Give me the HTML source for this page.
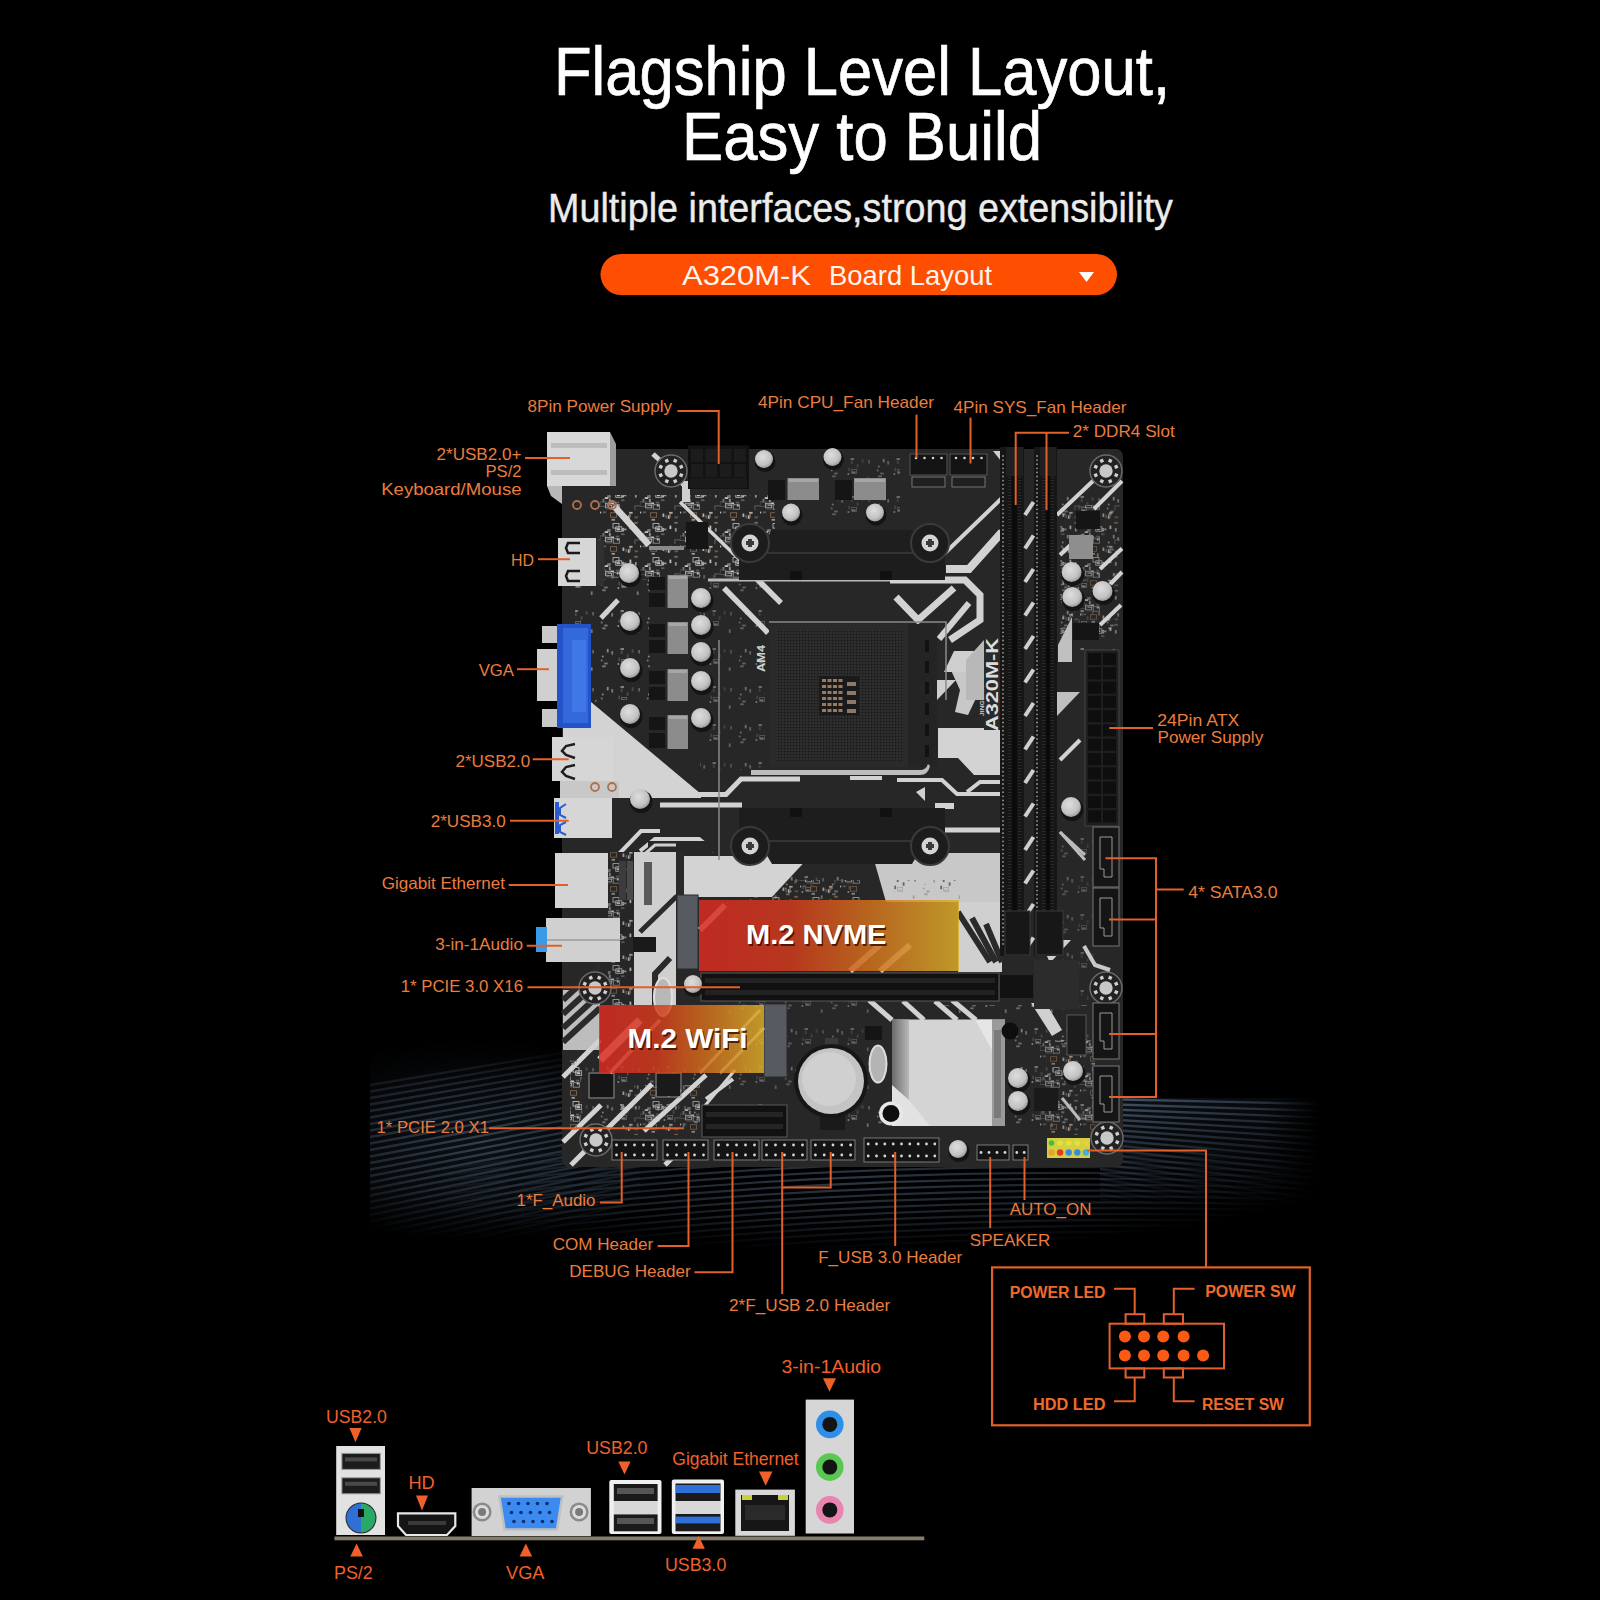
<!DOCTYPE html>
<html><head><meta charset="utf-8"><title>A320M-K Board Layout</title>
<style>
html,body{margin:0;padding:0;background:#000;}
body{width:1600px;height:1600px;overflow:hidden;position:relative;font-family:"Liberation Sans",sans-serif;}
svg{position:absolute;left:0;top:0;display:block;}
svg text{font-family:"Liberation Sans",sans-serif;}
</style></head><body>
<svg width="1600" height="1600" viewBox="0 0 1600 1600">
<defs>
<linearGradient id="m2g" x1="0" y1="0" x2="1" y2="0">
 <stop offset="0" stop-color="#dc2a22"/><stop offset="0.35" stop-color="#d23a1c"/><stop offset="0.65" stop-color="#d2701c"/><stop offset="1" stop-color="#dcae2a"/>
</linearGradient>
<radialGradient id="capg" cx="0.42" cy="0.38" r="0.7">
 <stop offset="0" stop-color="#dedede"/><stop offset="0.65" stop-color="#c2c2c2"/><stop offset="1" stop-color="#8a8a8a"/>
</radialGradient>
<radialGradient id="wave" cx="0.5" cy="0.5" r="0.5">
 <stop offset="0" stop-color="#1c2532" stop-opacity="1"/><stop offset="1" stop-color="#000" stop-opacity="0"/>
</radialGradient>
<linearGradient id="hsg" x1="0" y1="0" x2="1" y2="0">
 <stop offset="0" stop-color="#8a8a8a"/><stop offset="0.12" stop-color="#d8d8d8"/><stop offset="1" stop-color="#e6e6e6"/>
</linearGradient>
</defs>
<rect x="0" y="0" width="1600" height="1600" fill="#000"/>

<defs><radialGradient id="wgL" cx="0.5" cy="0.5" r="0.5"><stop offset="0" stop-color="#fff"/><stop offset="0.6" stop-color="#888"/><stop offset="1" stop-color="#000"/></radialGradient><linearGradient id="wgR" x1="0" y1="0" x2="1" y2="0"><stop offset="0" stop-color="#fff"/><stop offset="0.75" stop-color="#999"/><stop offset="1" stop-color="#000"/></linearGradient><linearGradient id="wgRv" x1="0" y1="0" x2="0" y2="1"><stop offset="0" stop-color="#fff"/><stop offset="1" stop-color="#000"/></linearGradient><mask id="wmL" maskUnits="userSpaceOnUse" x="370" y="1000" width="300" height="320"><ellipse cx="480" cy="1140" rx="230" ry="100" fill="url(#wgL)"/></mask><mask id="wmM" maskUnits="userSpaceOnUse" x="370" y="1100" width="950" height="220"><ellipse cx="845" cy="1180" rx="470" ry="70" fill="url(#wgL)"/></mask><mask id="wmR" maskUnits="userSpaceOnUse" x="1100" y="1090" width="220" height="140"><rect x="1100" y="1098" width="220" height="110" fill="url(#wgR)"/></mask><mask id="wmR2" maskUnits="userSpaceOnUse" x="1100" y="1090" width="220" height="140"><rect x="1100" y="1098" width="220" height="110" fill="url(#wgRv)"/></mask><clipPath id="wclip"><rect x="370" y="1000" width="950" height="320"/></clipPath></defs>
<g clip-path="url(#wclip)">
<g mask="url(#wmL)">
<rect x="370" y="1000" width="300" height="320" fill="#0b0f14"/>
<line x1="370" y1="1085.0" x2="640" y2="1040.0" stroke="#34414f" stroke-width="2.3"/>
<line x1="370" y1="1091.5" x2="640" y2="1046.0" stroke="#34414f" stroke-width="2.3"/>
<line x1="370" y1="1098.0" x2="640" y2="1052.0" stroke="#34414f" stroke-width="2.3"/>
<line x1="370" y1="1104.5" x2="640" y2="1058.0" stroke="#34414f" stroke-width="2.3"/>
<line x1="370" y1="1111.0" x2="640" y2="1064.0" stroke="#34414f" stroke-width="2.3"/>
<line x1="370" y1="1117.5" x2="640" y2="1070.0" stroke="#34414f" stroke-width="2.3"/>
<line x1="370" y1="1124.0" x2="640" y2="1076.0" stroke="#34414f" stroke-width="2.3"/>
<line x1="370" y1="1130.5" x2="640" y2="1082.0" stroke="#34414f" stroke-width="2.3"/>
<line x1="370" y1="1137.0" x2="640" y2="1088.0" stroke="#34414f" stroke-width="2.3"/>
<line x1="370" y1="1143.5" x2="640" y2="1094.0" stroke="#34414f" stroke-width="2.3"/>
<line x1="370" y1="1150.0" x2="640" y2="1100.0" stroke="#34414f" stroke-width="2.3"/>
<line x1="370" y1="1156.5" x2="640" y2="1106.0" stroke="#34414f" stroke-width="2.3"/>
<line x1="370" y1="1163.0" x2="640" y2="1112.0" stroke="#34414f" stroke-width="2.3"/>
<line x1="370" y1="1169.5" x2="640" y2="1118.0" stroke="#34414f" stroke-width="2.3"/>
<line x1="370" y1="1176.0" x2="640" y2="1124.0" stroke="#34414f" stroke-width="2.3"/>
<line x1="370" y1="1182.5" x2="640" y2="1130.0" stroke="#34414f" stroke-width="2.3"/>
<line x1="370" y1="1189.0" x2="640" y2="1136.0" stroke="#34414f" stroke-width="2.3"/>
<line x1="370" y1="1195.5" x2="640" y2="1142.0" stroke="#34414f" stroke-width="2.3"/>
<line x1="370" y1="1202.0" x2="640" y2="1148.0" stroke="#34414f" stroke-width="2.3"/>
<line x1="370" y1="1208.5" x2="640" y2="1154.0" stroke="#34414f" stroke-width="2.3"/>
<line x1="370" y1="1215.0" x2="640" y2="1160.0" stroke="#34414f" stroke-width="2.3"/>
<line x1="370" y1="1221.5" x2="640" y2="1166.0" stroke="#34414f" stroke-width="2.3"/>
<line x1="370" y1="1228.0" x2="640" y2="1172.0" stroke="#34414f" stroke-width="2.3"/>
<line x1="370" y1="1234.5" x2="640" y2="1178.0" stroke="#34414f" stroke-width="2.3"/>
<line x1="370" y1="1241.0" x2="640" y2="1184.0" stroke="#34414f" stroke-width="2.3"/>
<line x1="370" y1="1247.5" x2="640" y2="1190.0" stroke="#34414f" stroke-width="2.3"/>
<line x1="370" y1="1254.0" x2="640" y2="1196.0" stroke="#34414f" stroke-width="2.3"/>
<line x1="370" y1="1260.5" x2="640" y2="1202.0" stroke="#34414f" stroke-width="2.3"/>
<line x1="370" y1="1267.0" x2="640" y2="1208.0" stroke="#34414f" stroke-width="2.3"/>
<line x1="370" y1="1273.5" x2="640" y2="1214.0" stroke="#34414f" stroke-width="2.3"/>
<line x1="370" y1="1280.0" x2="640" y2="1220.0" stroke="#34414f" stroke-width="2.3"/>
<line x1="370" y1="1286.5" x2="640" y2="1226.0" stroke="#34414f" stroke-width="2.3"/>
<line x1="370" y1="1293.0" x2="640" y2="1232.0" stroke="#34414f" stroke-width="2.3"/>
<line x1="370" y1="1299.5" x2="640" y2="1238.0" stroke="#34414f" stroke-width="2.3"/>
</g>
<g mask="url(#wmM)">
<path d="M370,1180.0 Q800,1110.0 1320,1140.0" fill="none" stroke="#2c3846" stroke-width="2.2"/>
<path d="M370,1186.5 Q800,1116.5 1320,1145.5" fill="none" stroke="#2c3846" stroke-width="2.2"/>
<path d="M370,1193.0 Q800,1123.0 1320,1151.0" fill="none" stroke="#2c3846" stroke-width="2.2"/>
<path d="M370,1199.5 Q800,1129.5 1320,1156.5" fill="none" stroke="#2c3846" stroke-width="2.2"/>
<path d="M370,1206.0 Q800,1136.0 1320,1162.0" fill="none" stroke="#2c3846" stroke-width="2.2"/>
<path d="M370,1212.5 Q800,1142.5 1320,1167.5" fill="none" stroke="#2c3846" stroke-width="2.2"/>
<path d="M370,1219.0 Q800,1149.0 1320,1173.0" fill="none" stroke="#2c3846" stroke-width="2.2"/>
<path d="M370,1225.5 Q800,1155.5 1320,1178.5" fill="none" stroke="#2c3846" stroke-width="2.2"/>
<path d="M370,1232.0 Q800,1162.0 1320,1184.0" fill="none" stroke="#2c3846" stroke-width="2.2"/>
<path d="M370,1238.5 Q800,1168.5 1320,1189.5" fill="none" stroke="#2c3846" stroke-width="2.2"/>
<path d="M370,1245.0 Q800,1175.0 1320,1195.0" fill="none" stroke="#2c3846" stroke-width="2.2"/>
<path d="M370,1251.5 Q800,1181.5 1320,1200.5" fill="none" stroke="#2c3846" stroke-width="2.2"/>
<path d="M370,1258.0 Q800,1188.0 1320,1206.0" fill="none" stroke="#2c3846" stroke-width="2.2"/>
<path d="M370,1264.5 Q800,1194.5 1320,1211.5" fill="none" stroke="#2c3846" stroke-width="2.2"/>
<path d="M370,1271.0 Q800,1201.0 1320,1217.0" fill="none" stroke="#2c3846" stroke-width="2.2"/>
<path d="M370,1277.5 Q800,1207.5 1320,1222.5" fill="none" stroke="#2c3846" stroke-width="2.2"/>
<path d="M370,1284.0 Q800,1214.0 1320,1228.0" fill="none" stroke="#2c3846" stroke-width="2.2"/>
<path d="M370,1290.5 Q800,1220.5 1320,1233.5" fill="none" stroke="#2c3846" stroke-width="2.2"/>
<path d="M370,1297.0 Q800,1227.0 1320,1239.0" fill="none" stroke="#2c3846" stroke-width="2.2"/>
<path d="M370,1303.5 Q800,1233.5 1320,1244.5" fill="none" stroke="#2c3846" stroke-width="2.2"/>
<path d="M370,1310.0 Q800,1240.0 1320,1250.0" fill="none" stroke="#2c3846" stroke-width="2.2"/>
<path d="M370,1316.5 Q800,1246.5 1320,1255.5" fill="none" stroke="#2c3846" stroke-width="2.2"/>
<path d="M370,1323.0 Q800,1253.0 1320,1261.0" fill="none" stroke="#2c3846" stroke-width="2.2"/>
<path d="M370,1329.5 Q800,1259.5 1320,1266.5" fill="none" stroke="#2c3846" stroke-width="2.2"/>
</g>
<g mask="url(#wmR)"><g mask="url(#wmR2)">
<rect x="1100" y="1098" width="220" height="110" fill="#0c1016"/>
<line x1="1100" y1="1099.0" x2="1320" y2="1104.0" stroke="#465668" stroke-width="2.3"/>
<line x1="1100" y1="1104.0" x2="1320" y2="1110.8" stroke="#465668" stroke-width="2.3"/>
<line x1="1100" y1="1109.0" x2="1320" y2="1117.6" stroke="#465668" stroke-width="2.3"/>
<line x1="1100" y1="1114.0" x2="1320" y2="1124.4" stroke="#465668" stroke-width="2.3"/>
<line x1="1100" y1="1119.0" x2="1320" y2="1131.2" stroke="#465668" stroke-width="2.3"/>
<line x1="1100" y1="1124.0" x2="1320" y2="1138.0" stroke="#465668" stroke-width="2.3"/>
<line x1="1100" y1="1129.0" x2="1320" y2="1144.8" stroke="#465668" stroke-width="2.3"/>
<line x1="1100" y1="1134.0" x2="1320" y2="1151.6" stroke="#465668" stroke-width="2.3"/>
<line x1="1100" y1="1139.0" x2="1320" y2="1158.4" stroke="#465668" stroke-width="2.3"/>
<line x1="1100" y1="1144.0" x2="1320" y2="1165.2" stroke="#465668" stroke-width="2.3"/>
<line x1="1100" y1="1149.0" x2="1320" y2="1172.0" stroke="#465668" stroke-width="2.3"/>
<line x1="1100" y1="1154.0" x2="1320" y2="1178.8" stroke="#465668" stroke-width="2.3"/>
<line x1="1100" y1="1159.0" x2="1320" y2="1185.6" stroke="#465668" stroke-width="2.3"/>
<line x1="1100" y1="1164.0" x2="1320" y2="1192.4" stroke="#465668" stroke-width="2.3"/>
<line x1="1100" y1="1169.0" x2="1320" y2="1199.2" stroke="#465668" stroke-width="2.3"/>
<line x1="1100" y1="1174.0" x2="1320" y2="1206.0" stroke="#465668" stroke-width="2.3"/>
<line x1="1100" y1="1179.0" x2="1320" y2="1212.8" stroke="#465668" stroke-width="2.3"/>
<line x1="1100" y1="1184.0" x2="1320" y2="1219.6" stroke="#465668" stroke-width="2.3"/>
<line x1="1100" y1="1189.0" x2="1320" y2="1226.4" stroke="#465668" stroke-width="2.3"/>
<line x1="1100" y1="1194.0" x2="1320" y2="1233.2" stroke="#465668" stroke-width="2.3"/>
<line x1="1100" y1="1199.0" x2="1320" y2="1240.0" stroke="#465668" stroke-width="2.3"/>
<line x1="1100" y1="1204.0" x2="1320" y2="1246.8" stroke="#465668" stroke-width="2.3"/>
</g></g>
</g>
<text x="554.0" y="95.0" font-size="68" fill="#ffffff" text-anchor="start" font-weight="normal" textLength="616.0" lengthAdjust="spacingAndGlyphs" stroke="#fff" stroke-width="0.7">Flagship Level Layout,</text>
<text x="682.0" y="160.0" font-size="68" fill="#ffffff" text-anchor="start" font-weight="normal" textLength="360.0" lengthAdjust="spacingAndGlyphs" stroke="#fff" stroke-width="0.7">Easy to Build</text>
<text x="548.0" y="222.0" font-size="41" fill="#ececec" text-anchor="start" font-weight="normal" textLength="625.0" lengthAdjust="spacingAndGlyphs" stroke="#ececec" stroke-width="0.4">Multiple interfaces,strong extensibility</text>
<rect x="600.5" y="254" width="516.5" height="41" rx="20.5" ry="20.5" fill="#fd4e02"/>
<text x="682.0" y="285.0" font-size="28.5" fill="#fff4ee" text-anchor="start" font-weight="normal" textLength="129.0" lengthAdjust="spacingAndGlyphs">A320M-K</text>
<text x="829.0" y="285.0" font-size="28.5" fill="#fff4ee" text-anchor="start" font-weight="normal" textLength="163.0" lengthAdjust="spacingAndGlyphs">Board Layout</text>
<polygon points="1079.0,272.0 1094.0,272.0 1086.5,282.0" fill="#ffffff" />
<defs>
<pattern id="smd" x="0" y="0" width="46" height="38" patternUnits="userSpaceOnUse"><rect x="13.3" y="5.1" width="1.8" height="3.5" fill="#9a9a9a"/><rect x="33.7" y="3.2" width="1.8" height="3.5" fill="#5a5a5a"/><rect x="8.8" y="2.9" width="1.8" height="3.5" fill="#b0b0b0"/><circle cx="3.7" cy="14.4" r="1" fill="#9a9a9a"/><rect x="38.8" y="21.4" width="1.8" height="3.5" fill="#9a9a9a"/><rect x="23.7" y="13.5" width="5" height="4" fill="none" stroke="#9a9a9a" stroke-width="0.7"/><rect x="22.8" y="4.5" width="1.8" height="3.5" fill="#5a5a5a"/><circle cx="4.8" cy="10.5" r="1" fill="#b0b0b0"/><rect x="4.2" y="19.4" width="3.5" height="1.8" fill="#9a9a9a"/><rect x="22.5" y="2.1" width="3.5" height="1.8" fill="#b0b0b0"/><circle cx="20.4" cy="18.1" r="1" fill="#c0c0c0"/><rect x="24.0" y="15.4" width="3.5" height="1.8" fill="#b0b0b0"/><rect x="28.7" y="8.3" width="1.8" height="3.5" fill="#5a5a5a"/><rect x="20.3" y="11.7" width="1.8" height="3.5" fill="#5a5a5a"/><rect x="40.2" y="4.0" width="1.8" height="3.5" fill="#7a7a7a"/><rect x="6.2" y="16.6" width="3.5" height="1.8" fill="#9a9a9a"/></pattern>
<pattern id="smd2" x="0" y="0" width="10" height="9" patternUnits="userSpaceOnUse">
 <rect x="1" y="1" width="3" height="1.5" fill="#4a4a4a"/><rect x="6" y="4" width="1.5" height="3" fill="#555"/>
 <circle cx="2.5" cy="6" r="0.9" fill="#3a3a3a"/>
</pattern>
<pattern id="smd3" x="0" y="0" width="40" height="34" patternUnits="userSpaceOnUse"><rect x="15.8" y="16.8" width="6" height="4.5" fill="none" stroke="#c8c8c8" stroke-width="0.8"/><rect x="15.8" y="25.7" width="3.5" height="1.8" fill="#5e5e5e"/><rect x="16.7" y="18.4" width="3.5" height="1.8" fill="#c8c8c8"/><rect x="10.6" y="2.7" width="6" height="4.5" fill="none" stroke="#8a6a50" stroke-width="0.8"/><rect x="22.2" y="17.9" width="1.8" height="3.5" fill="#c8c8c8"/><rect x="22.9" y="18.5" width="3.5" height="1.8" fill="#9a9a9a"/><rect x="29.1" y="1.9" width="3.5" height="1.8" fill="#b4b4b4"/><rect x="21.0" y="23.3" width="3.5" height="1.8" fill="#5e5e5e"/><rect x="29.5" y="15.6" width="1.8" height="3.5" fill="#c8c8c8"/><circle cx="0.2" cy="2.5" r="1.1" fill="#c8c8c8"/><rect x="34.9" y="29.9" width="6" height="4.5" fill="none" stroke="#8a6a50" stroke-width="0.8"/><rect x="8.9" y="22.7" width="1.8" height="3.5" fill="#9a9a9a"/><rect x="2.5" y="23.0" width="1.8" height="3.5" fill="#7a7a7a"/><rect x="13.5" y="28.7" width="6" height="4.5" fill="none" stroke="#9a9a9a" stroke-width="0.8"/><rect x="7.5" y="27.8" width="3.5" height="1.8" fill="#c8c8c8"/><rect x="34.3" y="11.9" width="3.5" height="1.8" fill="#8a6a50"/><rect x="6.9" y="20.2" width="3.5" height="1.8" fill="#7a7a7a"/><circle cx="11.6" cy="28.9" r="1.1" fill="#9a9a9a"/><rect x="4.7" y="21.2" width="3.5" height="1.8" fill="#c8c8c8"/><rect x="27.9" y="5.3" width="1.8" height="3.5" fill="#c8c8c8"/><circle cx="17.8" cy="29.6" r="1.1" fill="#c8c8c8"/><rect x="22.5" y="3.5" width="1.8" height="3.5" fill="#b4b4b4"/><rect x="0.0" y="25.9" width="6" height="4.5" fill="none" stroke="#5e5e5e" stroke-width="0.8"/><rect x="10.6" y="26.5" width="3.5" height="1.8" fill="#c8c8c8"/><rect x="34.9" y="18.1" width="1.8" height="3.5" fill="#9a9a9a"/><rect x="34.6" y="6.4" width="3.5" height="1.8" fill="#5e5e5e"/><rect x="11.5" y="8.9" width="3.5" height="1.8" fill="#9a9a9a"/><rect x="7.3" y="19.1" width="3.5" height="1.8" fill="#7a7a7a"/><rect x="13.0" y="13.6" width="6" height="4.5" fill="none" stroke="#c8c8c8" stroke-width="0.8"/><rect x="29.1" y="4.1" width="1.8" height="3.5" fill="#8a6a50"/><rect x="5.4" y="27.3" width="6" height="4.5" fill="none" stroke="#b4b4b4" stroke-width="0.8"/><rect x="25.4" y="4.8" width="1.8" height="3.5" fill="#5e5e5e"/><rect x="6.9" y="28.5" width="6" height="4.5" fill="none" stroke="#5e5e5e" stroke-width="0.8"/><rect x="2.7" y="1.4" width="3.5" height="1.8" fill="#5e5e5e"/></pattern>
<linearGradient id="hsg2" x1="0" y1="0" x2="1" y2="0"><stop offset="0" stop-color="#6a6a6a"/><stop offset="1" stop-color="#b8b8b8"/></linearGradient>
<pattern id="sockp" x="0" y="0" width="3" height="3" patternUnits="userSpaceOnUse"><rect width="3" height="3" fill="#2e2e2e"/><rect x="0.8" y="0.8" width="1.5" height="1.5" fill="#151515"/></pattern>
<pattern id="dimp" x="0" y="0" width="4" height="3" patternUnits="userSpaceOnUse"><rect width="4" height="3" fill="#141414"/><rect x="0" y="0" width="4" height="1" fill="#2a2a2a"/></pattern>
</defs>
<g id="board">
<rect x="562" y="449" width="561" height="718" rx="7" fill="#272727"/>
<rect x="575" y="575" width="75" height="125" fill="url(#smd)" opacity="0.7"/>
<rect x="700" y="575" width="65" height="195" fill="url(#smd)" opacity="0.5"/>
<rect x="1057" y="480" width="65" height="170" fill="url(#smd)" opacity="0.6"/>
<rect x="830" y="455" width="70" height="70" fill="url(#smd)" opacity="0.5"/>
<rect x="580" y="1050" width="120" height="85" fill="url(#smd)" opacity="0.6"/>
<rect x="935" y="1005" width="155" height="30" fill="url(#smd)" opacity="0.6"/>
<rect x="1010" y="1035" width="85" height="105" fill="url(#smd)" opacity="0.6"/>
<rect x="845" y="1100" width="55" height="35" fill="url(#smd)" opacity="0.6"/>
<rect x="740" y="845" width="110" height="55" fill="url(#smd)" opacity="0.6"/>
<rect x="930" y="860" width="70" height="40" fill="url(#smd)" opacity="0.5"/>
<rect x="720" y="1000" width="150" height="105" fill="url(#smd)" opacity="0.45"/>
<rect x="1057" y="830" width="37" height="170" fill="url(#smd)" opacity="0.4"/>
<rect x="598" y="495" width="177" height="85" fill="url(#smd3)" opacity="0.95"/>
<rect x="1060" y="505" width="60" height="135" fill="url(#smd3)" opacity="0.7"/>
<rect x="620" y="1085" width="80" height="50" fill="url(#smd3)" opacity="0.8"/>
<rect x="740" y="880" width="120" height="20" fill="url(#smd3)" opacity="0.8"/>
<rect x="1040" y="1040" width="55" height="95" fill="url(#smd3)" opacity="0.7"/>
<rect x="565" y="700" width="35" height="30" fill="url(#smd3)" opacity="0.6"/>
<polygon points="591.0,702.0 701.0,794.0 701.0,798.0 563.0,798.0 563.0,728.0 591.0,728.0" fill="#d3d3d3" />
<polyline points="625.0,794.5 726.0,794.5 741.0,779.0 800.0,779.0" fill="none" stroke="#d2d2d2" stroke-width="5" stroke-linejoin="miter" stroke-linecap="butt"/>
<polyline points="660.0,805.0 742.0,805.0" fill="none" stroke="#d2d2d2" stroke-width="5" stroke-linejoin="miter" stroke-linecap="butt"/>
<polyline points="617.0,856.0 641.0,831.0 660.0,831.0" fill="none" stroke="#d2d2d2" stroke-width="4" stroke-linejoin="miter" stroke-linecap="butt"/>
<polyline points="640.0,851.0 655.0,839.0 699.0,839.0 714.0,851.0" fill="none" stroke="#d2d2d2" stroke-width="4" stroke-linejoin="miter" stroke-linecap="butt"/>
<polygon points="634.0,852.0 676.0,852.0 676.0,1005.0 634.0,1005.0" fill="#cfcfcf" />
<rect x="648.0" y="841.0" width="72.0" height="11.0" fill="#272727" />
<rect x="676.0" y="852.0" width="8.0" height="45.0" fill="#2a2a2a" />
<polyline points="677.0,896.0 640.0,932.0" fill="none" stroke="#2a2a2a" stroke-width="5" stroke-linejoin="miter" stroke-linecap="butt"/>
<polyline points="670.0,958.0 655.0,974.0 655.0,1005.0" fill="none" stroke="#2a2a2a" stroke-width="6" stroke-linejoin="miter" stroke-linecap="butt"/>
<rect x="608.0" y="852.0" width="26.0" height="153.0" fill="#262626" />
<rect x="608" y="852" width="26" height="153" fill="url(#smd3)" opacity="0.8"/>
<rect x="619.0" y="861.0" width="7.0" height="39.0" fill="#3c3c3c" />
<rect x="627.0" y="861.0" width="6.0" height="39.0" fill="#4a4a4a" />
<rect x="644.0" y="862.0" width="8.0" height="43.0" fill="#5a5a5a" />
<rect x="633.0" y="937.0" width="23.0" height="15.0" fill="#1a1a1a" />
<polyline points="640.0,858.0 655.0,845.0 676.0,845.0" fill="none" stroke="#cfcfcf" stroke-width="3" stroke-linejoin="miter" stroke-linecap="butt"/>
<polygon points="684.0,856.0 810.0,856.0 772.0,897.0 684.0,897.0" fill="#d3d3d3" />
<polygon points="872.0,853.0 1001.0,853.0 1001.0,902.0 886.0,902.0" fill="#c8c8c8" />
<rect x="890" y="880" width="70" height="20" fill="url(#smd)" opacity="0.9"/>
<polygon points="958.0,902.0 1002.0,902.0 1002.0,972.0 958.0,972.0" fill="#d0d0d0" />
<polyline points="958.0,912.0 990.0,962.0" fill="none" stroke="#2a2a2a" stroke-width="6" stroke-linejoin="miter" stroke-linecap="butt"/>
<polyline points="972.0,918.0 996.0,962.0" fill="none" stroke="#2a2a2a" stroke-width="6" stroke-linejoin="miter" stroke-linecap="butt"/>
<polyline points="986.0,924.0 1002.0,962.0" fill="none" stroke="#2a2a2a" stroke-width="6" stroke-linejoin="miter" stroke-linecap="butt"/>
<polygon points="938.0,728.0 1001.0,728.0 1001.0,775.0 974.0,775.0 958.0,758.0 938.0,758.0" fill="#d3d3d3" />
<rect x="984.0" y="640.0" width="17.0" height="90.0" fill="#2a2a2a" />
<text x="0" y="0" transform="translate(998,731) rotate(-90)" font-size="16" font-weight="bold" fill="#dcdcdc" textLength="93" lengthAdjust="spacingAndGlyphs">A320M-K</text>
<text x="0" y="0" transform="translate(984,716) rotate(-90)" font-size="6" font-weight="bold" fill="#cfcfcf" textLength="30" lengthAdjust="spacingAndGlyphs">JINGSHA</text>
<polygon points="950.0,668.0 972.0,668.0 980.0,690.0 968.0,715.0 955.0,712.0 960.0,690.0" fill="#c8c8c8" />
<polygon points="954.0,651.0 978.0,651.0 968.0,672.0 944.0,672.0" fill="#cfcfcf" />
<polygon points="937.0,680.0 956.0,680.0 937.0,700.0" fill="#cfcfcf" />
<polygon points="966.0,660.0 984.0,640.0 984.0,700.0 966.0,700.0" fill="#b8b8b8" />
<polyline points="653.0,454.0 665.0,465.0" fill="none" stroke="#d2d2d2" stroke-width="5" stroke-linejoin="miter" stroke-linecap="butt"/>
<polyline points="676.0,477.0 686.0,487.0" fill="none" stroke="#d2d2d2" stroke-width="5" stroke-linejoin="miter" stroke-linecap="butt"/>
<rect x="682.0" y="481.0" width="8.0" height="21.0" fill="#cfcfcf" />
<polyline points="614.0,506.0 649.0,545.0" fill="none" stroke="#d2d2d2" stroke-width="6.5" stroke-linejoin="miter" stroke-linecap="butt"/>
<polyline points="649.0,548.0 684.0,548.0" fill="none" stroke="#8a8a8a" stroke-width="4" stroke-linejoin="miter" stroke-linecap="butt"/>
<polyline points="680.0,502.0 740.0,560.0" fill="none" stroke="#d2d2d2" stroke-width="3.5" stroke-linejoin="miter" stroke-linecap="butt"/>
<polyline points="724.0,588.0 768.0,633.0" fill="none" stroke="#d2d2d2" stroke-width="5.5" stroke-linejoin="miter" stroke-linecap="butt"/>
<polyline points="753.0,575.0 781.0,603.0" fill="none" stroke="#d2d2d2" stroke-width="5.5" stroke-linejoin="miter" stroke-linecap="butt"/>
<polyline points="708.0,580.0 965.0,580.0" fill="none" stroke="#b8b8b8" stroke-width="3" stroke-linejoin="miter" stroke-linecap="butt"/>
<polyline points="601.0,618.0 618.0,600.0" fill="none" stroke="#d2d2d2" stroke-width="5" stroke-linejoin="miter" stroke-linecap="butt"/>
<polyline points="1002.0,498.0 944.0,554.0" fill="none" stroke="#d2d2d2" stroke-width="4" stroke-linejoin="miter" stroke-linecap="butt"/>
<polyline points="1002.0,532.0 969.0,569.0 946.0,569.0" fill="none" stroke="#d2d2d2" stroke-width="8" stroke-linejoin="miter" stroke-linecap="butt"/>
<polyline points="890.0,580.0 965.0,580.0 980.0,595.0 980.0,620.0 950.0,640.0" fill="none" stroke="#d2d2d2" stroke-width="7" stroke-linejoin="miter" stroke-linecap="butt"/>
<polyline points="896.0,597.0 918.0,620.0 954.0,588.0" fill="none" stroke="#d2d2d2" stroke-width="7" stroke-linejoin="miter" stroke-linecap="butt"/>
<polyline points="969.0,603.0 939.0,639.0" fill="none" stroke="#d2d2d2" stroke-width="6" stroke-linejoin="miter" stroke-linecap="butt"/>
<polygon points="993.0,451.0 1008.0,451.0 1001.0,461.0" fill="#cfcfcf" />
<polyline points="1057.0,515.0 1094.0,480.0" fill="none" stroke="#d2d2d2" stroke-width="4" stroke-linejoin="miter" stroke-linecap="butt"/>
<polyline points="1094.0,509.0 1122.0,481.0" fill="none" stroke="#d2d2d2" stroke-width="4" stroke-linejoin="miter" stroke-linecap="butt"/>
<polyline points="1060.0,555.0 1080.0,536.0" fill="none" stroke="#d2d2d2" stroke-width="4" stroke-linejoin="miter" stroke-linecap="butt"/>
<polyline points="1100.0,569.0 1122.0,548.5" fill="none" stroke="#d2d2d2" stroke-width="4" stroke-linejoin="miter" stroke-linecap="butt"/>
<polyline points="1104.6,590.0 1122.0,572.0" fill="none" stroke="#d2d2d2" stroke-width="4" stroke-linejoin="miter" stroke-linecap="butt"/>
<polyline points="1100.0,625.0 1121.0,605.0" fill="none" stroke="#d2d2d2" stroke-width="4" stroke-linejoin="miter" stroke-linecap="butt"/>
<polygon points="1058.0,645.0 1072.0,617.0 1072.0,662.0 1058.0,662.0" fill="#c0c0c0" />
<polygon points="1057.0,692.0 1080.0,692.0 1057.0,716.0" fill="#c0c0c0" />
<polyline points="1060.0,760.0 1080.0,740.0" fill="none" stroke="#d2d2d2" stroke-width="4" stroke-linejoin="miter" stroke-linecap="butt"/>
<polyline points="1060.0,832.0 1085.0,855.0" fill="none" stroke="#bbbbbb" stroke-width="3" stroke-linejoin="miter" stroke-linecap="butt"/>
<polyline points="850.0,778.0 882.0,778.0" fill="none" stroke="#d2d2d2" stroke-width="4" stroke-linejoin="miter" stroke-linecap="butt"/>
<polyline points="897.0,780.0 942.0,780.0 957.0,794.0 1000.0,794.0" fill="none" stroke="#d2d2d2" stroke-width="4" stroke-linejoin="miter" stroke-linecap="butt"/>
<polyline points="967.0,792.0 980.0,782.0 1000.0,782.0" fill="none" stroke="#d2d2d2" stroke-width="4" stroke-linejoin="miter" stroke-linecap="butt"/>
<polygon points="916.0,792.0 925.0,787.0 925.0,801.0" fill="#d0d0d0" />
<polyline points="935.0,806.0 954.0,806.0" fill="none" stroke="#d2d2d2" stroke-width="6" stroke-linejoin="miter" stroke-linecap="butt"/>
<polyline points="942.0,830.0 1000.0,830.0" fill="none" stroke="#d2d2d2" stroke-width="5" stroke-linejoin="miter" stroke-linecap="butt"/>
<polyline points="719.0,640.0 719.0,860.0" fill="none" stroke="#8a8a8a" stroke-width="1.5" stroke-linejoin="miter" stroke-linecap="butt"/>
<polyline points="869.0,1000.0 892.0,1020.0" fill="none" stroke="#d2d2d2" stroke-width="5" stroke-linejoin="miter" stroke-linecap="butt"/>
<polyline points="903.0,1001.0 924.0,1020.0" fill="none" stroke="#d2d2d2" stroke-width="5" stroke-linejoin="miter" stroke-linecap="butt"/>
<polyline points="935.0,1001.0 957.0,1020.0" fill="none" stroke="#d2d2d2" stroke-width="5" stroke-linejoin="miter" stroke-linecap="butt"/>
<polyline points="952.0,1000.0 976.0,1020.0" fill="none" stroke="#d2d2d2" stroke-width="5" stroke-linejoin="miter" stroke-linecap="butt"/>
<polygon points="1031.0,1003.0 1046.0,1003.0 1062.0,1030.0 1052.0,1036.0" fill="#d0d0d0" />
<polygon points="1040.0,940.0 1071.0,940.0 1050.0,963.0" fill="#d0d0d0" />
<polygon points="563.0,990.0 600.0,990.0 600.0,1050.0 563.0,1050.0" fill="#bdbdbd" />
<polyline points="563.0,1000.0 600.0,966.0" fill="none" stroke="#2a2a2a" stroke-width="6" stroke-linejoin="miter" stroke-linecap="butt"/>
<polyline points="563.0,1014.0 600.0,980.0" fill="none" stroke="#2a2a2a" stroke-width="6" stroke-linejoin="miter" stroke-linecap="butt"/>
<polyline points="563.0,1028.0 600.0,994.0" fill="none" stroke="#2a2a2a" stroke-width="6" stroke-linejoin="miter" stroke-linecap="butt"/>
<polyline points="563.0,1042.0 600.0,1008.0" fill="none" stroke="#2a2a2a" stroke-width="6" stroke-linejoin="miter" stroke-linecap="butt"/>
<polyline points="563.0,1077.0 600.0,1040.0" fill="none" stroke="#d2d2d2" stroke-width="5" stroke-linejoin="miter" stroke-linecap="butt"/>
<polyline points="563.0,1142.0 601.0,1105.0" fill="none" stroke="#d2d2d2" stroke-width="5" stroke-linejoin="miter" stroke-linecap="butt"/>
<polyline points="571.0,1165.0 652.0,1084.0" fill="none" stroke="#d2d2d2" stroke-width="5" stroke-linejoin="miter" stroke-linecap="butt"/>
<polyline points="644.0,1131.0 706.0,1075.0" fill="none" stroke="#d2d2d2" stroke-width="5" stroke-linejoin="miter" stroke-linecap="butt"/>
<polyline points="706.0,1099.0 733.0,1079.0" fill="none" stroke="#d2d2d2" stroke-width="4" stroke-linejoin="miter" stroke-linecap="butt"/>
<polyline points="665.0,1165.0 680.0,1150.0" fill="none" stroke="#d2d2d2" stroke-width="5" stroke-linejoin="miter" stroke-linecap="butt"/>
<polyline points="703.0,1108.0 735.0,1070.0" fill="none" stroke="#d2d2d2" stroke-width="3" stroke-linejoin="miter" stroke-linecap="butt"/>
<rect x="590.0" y="1074.0" width="23.0" height="23.0" fill="#151515" />
<rect x="589.0" y="1073.0" width="25.0" height="25.0" fill="none" stroke="#8a8a8a" stroke-width="1"/>
<rect x="657.0" y="1074.0" width="23.0" height="22.0" fill="#1a1a1a" />
<rect x="656.0" y="1073.0" width="25.0" height="24.0" fill="none" stroke="#8a8a8a" stroke-width="1"/>
<rect x="570.0" y="1060.0" width="12.0" height="70.0" fill="url(#smd3)" />
<circle cx="671" cy="471" r="16" fill="#222" stroke="#6a6a6a" stroke-width="1.5"/>
<rect x="679.5" y="473.5" width="3.4" height="3.4" fill="#d0d0d0" transform="rotate(22.5 681.2 475.2)"/>
<rect x="673.5" y="479.5" width="3.4" height="3.4" fill="#d0d0d0" transform="rotate(67.5 675.2 481.2)"/>
<rect x="665.1" y="479.5" width="3.4" height="3.4" fill="#d0d0d0" transform="rotate(112.5 666.8 481.2)"/>
<rect x="659.1" y="473.5" width="3.4" height="3.4" fill="#d0d0d0" transform="rotate(157.5 660.8 475.2)"/>
<rect x="659.1" y="465.1" width="3.4" height="3.4" fill="#d0d0d0" transform="rotate(202.5 660.8 466.8)"/>
<rect x="665.1" y="459.1" width="3.4" height="3.4" fill="#d0d0d0" transform="rotate(247.5 666.8 460.8)"/>
<rect x="673.5" y="459.1" width="3.4" height="3.4" fill="#d0d0d0" transform="rotate(292.5 675.2 460.8)"/>
<rect x="679.5" y="465.1" width="3.4" height="3.4" fill="#d0d0d0" transform="rotate(337.5 681.2 466.8)"/>
<circle cx="671" cy="471" r="6.7" fill="#c8c8c8"/>
<circle cx="1106" cy="471" r="16" fill="#222" stroke="#6a6a6a" stroke-width="1.5"/>
<rect x="1114.5" y="473.5" width="3.4" height="3.4" fill="#d0d0d0" transform="rotate(22.5 1116.2 475.2)"/>
<rect x="1108.5" y="479.5" width="3.4" height="3.4" fill="#d0d0d0" transform="rotate(67.5 1110.2 481.2)"/>
<rect x="1100.1" y="479.5" width="3.4" height="3.4" fill="#d0d0d0" transform="rotate(112.5 1101.8 481.2)"/>
<rect x="1094.1" y="473.5" width="3.4" height="3.4" fill="#d0d0d0" transform="rotate(157.5 1095.8 475.2)"/>
<rect x="1094.1" y="465.1" width="3.4" height="3.4" fill="#d0d0d0" transform="rotate(202.5 1095.8 466.8)"/>
<rect x="1100.1" y="459.1" width="3.4" height="3.4" fill="#d0d0d0" transform="rotate(247.5 1101.8 460.8)"/>
<rect x="1108.5" y="459.1" width="3.4" height="3.4" fill="#d0d0d0" transform="rotate(292.5 1110.2 460.8)"/>
<rect x="1114.5" y="465.1" width="3.4" height="3.4" fill="#d0d0d0" transform="rotate(337.5 1116.2 466.8)"/>
<circle cx="1106" cy="471" r="6.7" fill="#c8c8c8"/>
<circle cx="595" cy="988" r="16" fill="#222" stroke="#6a6a6a" stroke-width="1.5"/>
<rect x="603.5" y="990.5" width="3.4" height="3.4" fill="#d0d0d0" transform="rotate(22.5 605.2 992.2)"/>
<rect x="597.5" y="996.5" width="3.4" height="3.4" fill="#d0d0d0" transform="rotate(67.5 599.2 998.2)"/>
<rect x="589.1" y="996.5" width="3.4" height="3.4" fill="#d0d0d0" transform="rotate(112.5 590.8 998.2)"/>
<rect x="583.1" y="990.5" width="3.4" height="3.4" fill="#d0d0d0" transform="rotate(157.5 584.8 992.2)"/>
<rect x="583.1" y="982.1" width="3.4" height="3.4" fill="#d0d0d0" transform="rotate(202.5 584.8 983.8)"/>
<rect x="589.1" y="976.1" width="3.4" height="3.4" fill="#d0d0d0" transform="rotate(247.5 590.8 977.8)"/>
<rect x="597.5" y="976.1" width="3.4" height="3.4" fill="#d0d0d0" transform="rotate(292.5 599.2 977.8)"/>
<rect x="603.5" y="982.1" width="3.4" height="3.4" fill="#d0d0d0" transform="rotate(337.5 605.2 983.8)"/>
<circle cx="595" cy="988" r="6.7" fill="#c8c8c8"/>
<circle cx="1106" cy="988" r="16" fill="#222" stroke="#6a6a6a" stroke-width="1.5"/>
<rect x="1114.5" y="990.5" width="3.4" height="3.4" fill="#d0d0d0" transform="rotate(22.5 1116.2 992.2)"/>
<rect x="1108.5" y="996.5" width="3.4" height="3.4" fill="#d0d0d0" transform="rotate(67.5 1110.2 998.2)"/>
<rect x="1100.1" y="996.5" width="3.4" height="3.4" fill="#d0d0d0" transform="rotate(112.5 1101.8 998.2)"/>
<rect x="1094.1" y="990.5" width="3.4" height="3.4" fill="#d0d0d0" transform="rotate(157.5 1095.8 992.2)"/>
<rect x="1094.1" y="982.1" width="3.4" height="3.4" fill="#d0d0d0" transform="rotate(202.5 1095.8 983.8)"/>
<rect x="1100.1" y="976.1" width="3.4" height="3.4" fill="#d0d0d0" transform="rotate(247.5 1101.8 977.8)"/>
<rect x="1108.5" y="976.1" width="3.4" height="3.4" fill="#d0d0d0" transform="rotate(292.5 1110.2 977.8)"/>
<rect x="1114.5" y="982.1" width="3.4" height="3.4" fill="#d0d0d0" transform="rotate(337.5 1116.2 983.8)"/>
<circle cx="1106" cy="988" r="6.7" fill="#c8c8c8"/>
<circle cx="596" cy="1140" r="16" fill="#222" stroke="#6a6a6a" stroke-width="1.5"/>
<rect x="604.5" y="1142.5" width="3.4" height="3.4" fill="#d0d0d0" transform="rotate(22.5 606.2 1144.2)"/>
<rect x="598.5" y="1148.5" width="3.4" height="3.4" fill="#d0d0d0" transform="rotate(67.5 600.2 1150.2)"/>
<rect x="590.1" y="1148.5" width="3.4" height="3.4" fill="#d0d0d0" transform="rotate(112.5 591.8 1150.2)"/>
<rect x="584.1" y="1142.5" width="3.4" height="3.4" fill="#d0d0d0" transform="rotate(157.5 585.8 1144.2)"/>
<rect x="584.1" y="1134.1" width="3.4" height="3.4" fill="#d0d0d0" transform="rotate(202.5 585.8 1135.8)"/>
<rect x="590.1" y="1128.1" width="3.4" height="3.4" fill="#d0d0d0" transform="rotate(247.5 591.8 1129.8)"/>
<rect x="598.5" y="1128.1" width="3.4" height="3.4" fill="#d0d0d0" transform="rotate(292.5 600.2 1129.8)"/>
<rect x="604.5" y="1134.1" width="3.4" height="3.4" fill="#d0d0d0" transform="rotate(337.5 606.2 1135.8)"/>
<circle cx="596" cy="1140" r="6.7" fill="#c8c8c8"/>
<circle cx="1107" cy="1138" r="16" fill="#222" stroke="#6a6a6a" stroke-width="1.5"/>
<rect x="1115.5" y="1140.5" width="3.4" height="3.4" fill="#d0d0d0" transform="rotate(22.5 1117.2 1142.2)"/>
<rect x="1109.5" y="1146.5" width="3.4" height="3.4" fill="#d0d0d0" transform="rotate(67.5 1111.2 1148.2)"/>
<rect x="1101.1" y="1146.5" width="3.4" height="3.4" fill="#d0d0d0" transform="rotate(112.5 1102.8 1148.2)"/>
<rect x="1095.1" y="1140.5" width="3.4" height="3.4" fill="#d0d0d0" transform="rotate(157.5 1096.8 1142.2)"/>
<rect x="1095.1" y="1132.1" width="3.4" height="3.4" fill="#d0d0d0" transform="rotate(202.5 1096.8 1133.8)"/>
<rect x="1101.1" y="1126.1" width="3.4" height="3.4" fill="#d0d0d0" transform="rotate(247.5 1102.8 1127.8)"/>
<rect x="1109.5" y="1126.1" width="3.4" height="3.4" fill="#d0d0d0" transform="rotate(292.5 1111.2 1127.8)"/>
<rect x="1115.5" y="1132.1" width="3.4" height="3.4" fill="#d0d0d0" transform="rotate(337.5 1117.2 1133.8)"/>
<circle cx="1107" cy="1138" r="6.7" fill="#c8c8c8"/>
<circle cx="577.0" cy="505.0" r="4.0" fill="none" stroke="#b07050" stroke-width="1.8"/>
<circle cx="595.0" cy="505.0" r="4.0" fill="none" stroke="#b07050" stroke-width="1.8"/>
<circle cx="612.0" cy="505.0" r="4.0" fill="none" stroke="#b07050" stroke-width="1.8"/>
<rect x="688.0" y="445.5" width="61.0" height="43.5" fill="#121212" />
<rect x="691.0" y="449.0" width="12.0" height="13.0" fill="#1c1c1c" />
<rect x="691.0" y="464.0" width="12.0" height="13.0" fill="#1c1c1c" />
<rect x="705.3" y="449.0" width="12.0" height="13.0" fill="#1c1c1c" />
<rect x="705.3" y="464.0" width="12.0" height="13.0" fill="#1c1c1c" />
<rect x="719.6" y="449.0" width="12.0" height="13.0" fill="#1c1c1c" />
<rect x="719.6" y="464.0" width="12.0" height="13.0" fill="#1c1c1c" />
<rect x="733.9" y="449.0" width="12.0" height="13.0" fill="#1c1c1c" />
<rect x="733.9" y="464.0" width="12.0" height="13.0" fill="#1c1c1c" />
<rect x="690.0" y="478.0" width="57.0" height="10.0" fill="#1a1a1a" />
<rect x="686.0" y="522.0" width="22.0" height="27.0" fill="#151515" />
<rect x="910.0" y="454.0" width="37.0" height="21.0" fill="#141414" stroke="#555" stroke-width="1"/>
<circle cx="916.0" cy="458.0" r="1.3" fill="#d0d0d0" />
<circle cx="924.5" cy="458.0" r="1.3" fill="#d0d0d0" />
<circle cx="933.0" cy="458.0" r="1.3" fill="#d0d0d0" />
<circle cx="941.5" cy="458.0" r="1.3" fill="#d0d0d0" />
<rect x="912.0" y="477.0" width="33.0" height="10.0" fill="#202020" stroke="#888" stroke-width="0.8"/>
<rect x="950.0" y="454.0" width="37.0" height="21.0" fill="#141414" stroke="#555" stroke-width="1"/>
<circle cx="956.0" cy="458.0" r="1.3" fill="#d0d0d0" />
<circle cx="964.5" cy="458.0" r="1.3" fill="#d0d0d0" />
<circle cx="973.0" cy="458.0" r="1.3" fill="#d0d0d0" />
<circle cx="981.5" cy="458.0" r="1.3" fill="#d0d0d0" />
<rect x="952.0" y="477.0" width="33.0" height="10.0" fill="#202020" stroke="#888" stroke-width="0.8"/>
<rect x="787.5" y="478.0" width="31.5" height="22.0" fill="#8c8c8c" />
<rect x="788.5" y="479.0" width="29.5" height="3.0" fill="#a6a6a6" />
<rect x="854.0" y="478.0" width="32.0" height="22.0" fill="#8c8c8c" />
<rect x="855.0" y="479.0" width="30.0" height="3.0" fill="#a6a6a6" />
<rect x="768.0" y="480.0" width="17.0" height="20.0" fill="#151515" />
<rect x="835.0" y="480.0" width="17.0" height="20.0" fill="#151515" />
<circle cx="765.0" cy="461.5" r="10.5" fill="#141414"/>
<circle cx="764.0" cy="459.0" r="9.0" fill="url(#capg)"/>
<circle cx="833.5" cy="459.5" r="10.5" fill="#141414"/>
<circle cx="832.5" cy="457.0" r="9.0" fill="url(#capg)"/>
<circle cx="792.0" cy="515.0" r="10.5" fill="#141414"/>
<circle cx="791.0" cy="512.5" r="9.0" fill="url(#capg)"/>
<circle cx="876.0" cy="515.0" r="10.5" fill="#141414"/>
<circle cx="875.0" cy="512.5" r="9.0" fill="url(#capg)"/>
<rect x="667.5" y="575.0" width="20.5" height="33.0" fill="#8c8c8c" />
<rect x="668.5" y="576.0" width="18.5" height="3.0" fill="#a6a6a6" />
<rect x="649.0" y="577.0" width="16.0" height="13.0" fill="#151515" />
<rect x="649.0" y="593.0" width="16.0" height="14.0" fill="#151515" />
<rect x="667.5" y="622.0" width="20.5" height="32.0" fill="#8c8c8c" />
<rect x="668.5" y="623.0" width="18.5" height="3.0" fill="#a6a6a6" />
<rect x="649.0" y="624.0" width="16.0" height="13.0" fill="#151515" />
<rect x="649.0" y="640.0" width="16.0" height="13.0" fill="#151515" />
<rect x="667.5" y="669.0" width="20.5" height="32.0" fill="#8c8c8c" />
<rect x="668.5" y="670.0" width="18.5" height="3.0" fill="#a6a6a6" />
<rect x="649.0" y="671.0" width="16.0" height="13.0" fill="#151515" />
<rect x="649.0" y="687.0" width="16.0" height="13.0" fill="#151515" />
<rect x="667.5" y="715.0" width="20.5" height="34.0" fill="#8c8c8c" />
<rect x="668.5" y="716.0" width="18.5" height="3.0" fill="#a6a6a6" />
<rect x="649.0" y="717.0" width="16.0" height="13.0" fill="#151515" />
<rect x="649.0" y="733.0" width="16.0" height="15.0" fill="#151515" />
<circle cx="630.0" cy="575.5" r="11.5" fill="#141414"/>
<circle cx="629.0" cy="573.0" r="10.0" fill="url(#capg)"/>
<circle cx="631.0" cy="623.5" r="11.5" fill="#141414"/>
<circle cx="630.0" cy="621.0" r="10.0" fill="url(#capg)"/>
<circle cx="631.0" cy="670.5" r="11.5" fill="#141414"/>
<circle cx="630.0" cy="668.0" r="10.0" fill="url(#capg)"/>
<circle cx="631.0" cy="716.5" r="11.5" fill="#141414"/>
<circle cx="630.0" cy="714.0" r="10.0" fill="url(#capg)"/>
<circle cx="702.0" cy="600.5" r="11.5" fill="#141414"/>
<circle cx="701.0" cy="598.0" r="10.0" fill="url(#capg)"/>
<circle cx="702.0" cy="627.5" r="11.5" fill="#141414"/>
<circle cx="701.0" cy="625.0" r="10.0" fill="url(#capg)"/>
<circle cx="702.0" cy="654.5" r="11.5" fill="#141414"/>
<circle cx="701.0" cy="652.0" r="10.0" fill="url(#capg)"/>
<circle cx="702.0" cy="683.5" r="11.5" fill="#141414"/>
<circle cx="701.0" cy="681.0" r="10.0" fill="url(#capg)"/>
<circle cx="702.0" cy="720.5" r="11.5" fill="#141414"/>
<circle cx="701.0" cy="718.0" r="10.0" fill="url(#capg)"/>
<circle cx="641.0" cy="801.5" r="11.5" fill="#141414"/>
<circle cx="640.0" cy="799.0" r="10.0" fill="url(#capg)"/>
<polygon points="772.0,530.0 912.0,530.0 925.0,552.0 759.0,552.0" fill="#1e1e1e" />
<rect x="739.0" y="552.0" width="206.0" height="28.0" fill="#1d1d1d" />
<rect x="739.0" y="552.0" width="206.0" height="2.0" fill="#343434" />
<rect x="790.0" y="571.0" width="12.0" height="9.0" fill="#111" />
<rect x="880.0" y="571.0" width="12.0" height="9.0" fill="#111" />
<circle cx="750.0" cy="543.0" r="19.0" fill="#1c1c1c" stroke="#3a3a3a" stroke-width="2"/>
<circle cx="750.0" cy="543.0" r="8.5" fill="#d4d4d4" />
<path d="M746,541 h8 v4 h-8 z M748,539 h4 v8 h-4 z" fill="#3a3a3a"/>
<circle cx="930.0" cy="543.0" r="19.0" fill="#1c1c1c" stroke="#3a3a3a" stroke-width="2"/>
<circle cx="930.0" cy="543.0" r="8.5" fill="#d4d4d4" />
<path d="M926,541 h8 v4 h-8 z M928,539 h4 v8 h-4 z" fill="#3a3a3a"/>
<rect x="739.0" y="808.0" width="206.0" height="34.0" fill="#1d1d1d" />
<polygon points="759.0,842.0 925.0,842.0 912.0,864.0 772.0,864.0" fill="#1e1e1e" />
<rect x="739.0" y="840.0" width="206.0" height="2.0" fill="#343434" />
<rect x="790.0" y="808.0" width="12.0" height="9.0" fill="#111" />
<rect x="880.0" y="808.0" width="12.0" height="9.0" fill="#111" />
<circle cx="750.0" cy="846.0" r="19.0" fill="#1c1c1c" stroke="#3a3a3a" stroke-width="2"/>
<circle cx="750.0" cy="846.0" r="8.5" fill="#d4d4d4" />
<path d="M746,844 h8 v4 h-8 z M748,842 h4 v8 h-4 z" fill="#3a3a3a"/>
<circle cx="930.0" cy="846.0" r="19.0" fill="#1c1c1c" stroke="#3a3a3a" stroke-width="2"/>
<circle cx="930.0" cy="846.0" r="8.5" fill="#d4d4d4" />
<path d="M926,844 h8 v4 h-8 z M928,842 h4 v8 h-4 z" fill="#3a3a3a"/>
<polyline points="769.0,622.0 946.0,622.0 946.0,700.0" fill="none" stroke="#8a8a8a" stroke-width="1.5" stroke-linejoin="miter" stroke-linecap="butt"/>
<rect x="769.0" y="623.5" width="139.0" height="143.5" fill="#2a2a2a" />
<rect x="776.0" y="630.0" width="126.0" height="131.0" fill="url(#sockp)" />
<rect x="819.0" y="676.0" width="40.0" height="39.0" fill="#1a1a1a" />
<rect x="822.0" y="679.0" width="4.0" height="3.0" fill="#9a7a5a" />
<rect x="822.0" y="685.0" width="4.0" height="3.0" fill="#9a7a5a" />
<rect x="822.0" y="691.0" width="4.0" height="3.0" fill="#9a7a5a" />
<rect x="822.0" y="697.0" width="4.0" height="3.0" fill="#9a7a5a" />
<rect x="822.0" y="703.0" width="4.0" height="3.0" fill="#9a7a5a" />
<rect x="822.0" y="709.0" width="4.0" height="3.0" fill="#9a7a5a" />
<rect x="827.5" y="679.0" width="4.0" height="3.0" fill="#9a7a5a" />
<rect x="827.5" y="685.0" width="4.0" height="3.0" fill="#9a7a5a" />
<rect x="827.5" y="691.0" width="4.0" height="3.0" fill="#9a7a5a" />
<rect x="827.5" y="697.0" width="4.0" height="3.0" fill="#9a7a5a" />
<rect x="827.5" y="703.0" width="4.0" height="3.0" fill="#9a7a5a" />
<rect x="827.5" y="709.0" width="4.0" height="3.0" fill="#9a7a5a" />
<rect x="833.0" y="679.0" width="4.0" height="3.0" fill="#9a7a5a" />
<rect x="833.0" y="685.0" width="4.0" height="3.0" fill="#9a7a5a" />
<rect x="833.0" y="691.0" width="4.0" height="3.0" fill="#9a7a5a" />
<rect x="833.0" y="697.0" width="4.0" height="3.0" fill="#9a7a5a" />
<rect x="833.0" y="703.0" width="4.0" height="3.0" fill="#9a7a5a" />
<rect x="833.0" y="709.0" width="4.0" height="3.0" fill="#9a7a5a" />
<rect x="838.5" y="679.0" width="4.0" height="3.0" fill="#9a7a5a" />
<rect x="838.5" y="685.0" width="4.0" height="3.0" fill="#9a7a5a" />
<rect x="838.5" y="691.0" width="4.0" height="3.0" fill="#9a7a5a" />
<rect x="838.5" y="697.0" width="4.0" height="3.0" fill="#9a7a5a" />
<rect x="838.5" y="703.0" width="4.0" height="3.0" fill="#9a7a5a" />
<rect x="838.5" y="709.0" width="4.0" height="3.0" fill="#9a7a5a" />
<rect x="847.0" y="682.0" width="9.0" height="4.0" fill="#8a7a6a" />
<rect x="847.0" y="691.0" width="9.0" height="4.0" fill="#8a7a6a" />
<rect x="847.0" y="700.0" width="9.0" height="4.0" fill="#8a7a6a" />
<rect x="847.0" y="709.0" width="9.0" height="4.0" fill="#8a7a6a" />
<rect x="908.0" y="624.0" width="29.0" height="143.0" fill="#242424" />
<rect x="925.0" y="640.0" width="4.0" height="12.0" fill="#121212" />
<rect x="925.0" y="661.0" width="4.0" height="12.0" fill="#121212" />
<rect x="925.0" y="682.0" width="4.0" height="12.0" fill="#121212" />
<rect x="925.0" y="703.0" width="4.0" height="12.0" fill="#121212" />
<rect x="925.0" y="724.0" width="4.0" height="12.0" fill="#121212" />
<rect x="925.0" y="745.0" width="4.0" height="12.0" fill="#121212" />
<path d="M751,770 L920,770 Q926,770 928,764 L930,766 Q928,775 920,775 L751,775 Z" fill="#bdbdbd"/>
<text x="0" y="0" transform="translate(765,672) rotate(-90)" font-size="10" font-weight="bold" fill="#d0d0d0" textLength="27" lengthAdjust="spacingAndGlyphs">AM4</text>
<rect x="1000.0" y="447.0" width="24.0" height="509.0" fill="#161616" />
<circle cx="1003.0" cy="456.0" r="0.9" fill="#9a9a9a" />
<circle cx="1003.0" cy="460.1" r="0.9" fill="#9a9a9a" />
<circle cx="1003.0" cy="464.2" r="0.9" fill="#9a9a9a" />
<circle cx="1003.0" cy="468.3" r="0.9" fill="#9a9a9a" />
<circle cx="1003.0" cy="472.4" r="0.9" fill="#9a9a9a" />
<circle cx="1003.0" cy="476.5" r="0.9" fill="#9a9a9a" />
<circle cx="1003.0" cy="480.6" r="0.9" fill="#9a9a9a" />
<circle cx="1003.0" cy="484.7" r="0.9" fill="#9a9a9a" />
<circle cx="1003.0" cy="488.8" r="0.9" fill="#9a9a9a" />
<circle cx="1003.0" cy="492.9" r="0.9" fill="#9a9a9a" />
<circle cx="1003.0" cy="497.0" r="0.9" fill="#9a9a9a" />
<circle cx="1003.0" cy="501.1" r="0.9" fill="#9a9a9a" />
<circle cx="1003.0" cy="505.2" r="0.9" fill="#9a9a9a" />
<circle cx="1003.0" cy="509.3" r="0.9" fill="#9a9a9a" />
<circle cx="1003.0" cy="513.4" r="0.9" fill="#9a9a9a" />
<circle cx="1003.0" cy="517.5" r="0.9" fill="#9a9a9a" />
<circle cx="1003.0" cy="521.6" r="0.9" fill="#9a9a9a" />
<circle cx="1003.0" cy="525.7" r="0.9" fill="#9a9a9a" />
<circle cx="1003.0" cy="529.8" r="0.9" fill="#9a9a9a" />
<circle cx="1003.0" cy="533.9" r="0.9" fill="#9a9a9a" />
<circle cx="1003.0" cy="538.0" r="0.9" fill="#9a9a9a" />
<circle cx="1003.0" cy="542.1" r="0.9" fill="#9a9a9a" />
<circle cx="1003.0" cy="546.2" r="0.9" fill="#9a9a9a" />
<circle cx="1003.0" cy="550.3" r="0.9" fill="#9a9a9a" />
<circle cx="1003.0" cy="554.4" r="0.9" fill="#9a9a9a" />
<circle cx="1003.0" cy="558.5" r="0.9" fill="#9a9a9a" />
<circle cx="1003.0" cy="562.6" r="0.9" fill="#9a9a9a" />
<circle cx="1003.0" cy="566.7" r="0.9" fill="#9a9a9a" />
<circle cx="1003.0" cy="570.8" r="0.9" fill="#9a9a9a" />
<circle cx="1003.0" cy="574.9" r="0.9" fill="#9a9a9a" />
<circle cx="1003.0" cy="579.0" r="0.9" fill="#9a9a9a" />
<circle cx="1003.0" cy="583.1" r="0.9" fill="#9a9a9a" />
<circle cx="1003.0" cy="587.2" r="0.9" fill="#9a9a9a" />
<circle cx="1003.0" cy="591.3" r="0.9" fill="#9a9a9a" />
<circle cx="1003.0" cy="595.4" r="0.9" fill="#9a9a9a" />
<circle cx="1003.0" cy="599.5" r="0.9" fill="#9a9a9a" />
<circle cx="1003.0" cy="603.6" r="0.9" fill="#9a9a9a" />
<circle cx="1003.0" cy="607.7" r="0.9" fill="#9a9a9a" />
<circle cx="1003.0" cy="611.8" r="0.9" fill="#9a9a9a" />
<circle cx="1003.0" cy="615.9" r="0.9" fill="#9a9a9a" />
<circle cx="1003.0" cy="620.0" r="0.9" fill="#9a9a9a" />
<circle cx="1003.0" cy="624.1" r="0.9" fill="#9a9a9a" />
<circle cx="1003.0" cy="628.2" r="0.9" fill="#9a9a9a" />
<circle cx="1003.0" cy="632.3" r="0.9" fill="#9a9a9a" />
<circle cx="1003.0" cy="636.4" r="0.9" fill="#9a9a9a" />
<circle cx="1003.0" cy="640.5" r="0.9" fill="#9a9a9a" />
<circle cx="1003.0" cy="644.6" r="0.9" fill="#9a9a9a" />
<circle cx="1003.0" cy="648.7" r="0.9" fill="#9a9a9a" />
<circle cx="1003.0" cy="652.8" r="0.9" fill="#9a9a9a" />
<circle cx="1003.0" cy="656.9" r="0.9" fill="#9a9a9a" />
<circle cx="1003.0" cy="661.0" r="0.9" fill="#9a9a9a" />
<circle cx="1003.0" cy="665.1" r="0.9" fill="#9a9a9a" />
<circle cx="1003.0" cy="669.2" r="0.9" fill="#9a9a9a" />
<circle cx="1003.0" cy="673.3" r="0.9" fill="#9a9a9a" />
<circle cx="1003.0" cy="677.4" r="0.9" fill="#9a9a9a" />
<circle cx="1003.0" cy="681.5" r="0.9" fill="#9a9a9a" />
<circle cx="1003.0" cy="685.6" r="0.9" fill="#9a9a9a" />
<circle cx="1003.0" cy="689.7" r="0.9" fill="#9a9a9a" />
<circle cx="1003.0" cy="693.8" r="0.9" fill="#9a9a9a" />
<circle cx="1003.0" cy="697.9" r="0.9" fill="#9a9a9a" />
<circle cx="1003.0" cy="702.0" r="0.9" fill="#9a9a9a" />
<circle cx="1003.0" cy="706.1" r="0.9" fill="#9a9a9a" />
<circle cx="1003.0" cy="710.2" r="0.9" fill="#9a9a9a" />
<circle cx="1003.0" cy="714.3" r="0.9" fill="#9a9a9a" />
<circle cx="1003.0" cy="718.4" r="0.9" fill="#9a9a9a" />
<circle cx="1003.0" cy="722.5" r="0.9" fill="#9a9a9a" />
<circle cx="1003.0" cy="726.6" r="0.9" fill="#9a9a9a" />
<circle cx="1003.0" cy="730.7" r="0.9" fill="#9a9a9a" />
<circle cx="1003.0" cy="734.8" r="0.9" fill="#9a9a9a" />
<circle cx="1003.0" cy="738.9" r="0.9" fill="#9a9a9a" />
<circle cx="1003.0" cy="743.0" r="0.9" fill="#9a9a9a" />
<circle cx="1003.0" cy="747.1" r="0.9" fill="#9a9a9a" />
<circle cx="1003.0" cy="751.2" r="0.9" fill="#9a9a9a" />
<circle cx="1003.0" cy="755.3" r="0.9" fill="#9a9a9a" />
<circle cx="1003.0" cy="759.4" r="0.9" fill="#9a9a9a" />
<circle cx="1003.0" cy="763.5" r="0.9" fill="#9a9a9a" />
<circle cx="1003.0" cy="767.6" r="0.9" fill="#9a9a9a" />
<circle cx="1003.0" cy="771.7" r="0.9" fill="#9a9a9a" />
<circle cx="1003.0" cy="775.8" r="0.9" fill="#9a9a9a" />
<circle cx="1003.0" cy="779.9" r="0.9" fill="#9a9a9a" />
<circle cx="1003.0" cy="784.0" r="0.9" fill="#9a9a9a" />
<circle cx="1003.0" cy="788.1" r="0.9" fill="#9a9a9a" />
<circle cx="1003.0" cy="792.2" r="0.9" fill="#9a9a9a" />
<circle cx="1003.0" cy="796.3" r="0.9" fill="#9a9a9a" />
<circle cx="1003.0" cy="800.4" r="0.9" fill="#9a9a9a" />
<circle cx="1003.0" cy="804.5" r="0.9" fill="#9a9a9a" />
<circle cx="1003.0" cy="808.6" r="0.9" fill="#9a9a9a" />
<circle cx="1003.0" cy="812.7" r="0.9" fill="#9a9a9a" />
<circle cx="1003.0" cy="816.8" r="0.9" fill="#9a9a9a" />
<circle cx="1003.0" cy="820.9" r="0.9" fill="#9a9a9a" />
<circle cx="1003.0" cy="825.0" r="0.9" fill="#9a9a9a" />
<circle cx="1003.0" cy="829.1" r="0.9" fill="#9a9a9a" />
<circle cx="1003.0" cy="833.2" r="0.9" fill="#9a9a9a" />
<circle cx="1003.0" cy="837.3" r="0.9" fill="#9a9a9a" />
<circle cx="1003.0" cy="841.4" r="0.9" fill="#9a9a9a" />
<circle cx="1003.0" cy="845.5" r="0.9" fill="#9a9a9a" />
<circle cx="1003.0" cy="849.6" r="0.9" fill="#9a9a9a" />
<circle cx="1003.0" cy="853.7" r="0.9" fill="#9a9a9a" />
<circle cx="1003.0" cy="857.8" r="0.9" fill="#9a9a9a" />
<circle cx="1003.0" cy="861.9" r="0.9" fill="#9a9a9a" />
<circle cx="1003.0" cy="866.0" r="0.9" fill="#9a9a9a" />
<circle cx="1003.0" cy="870.1" r="0.9" fill="#9a9a9a" />
<circle cx="1003.0" cy="874.2" r="0.9" fill="#9a9a9a" />
<circle cx="1003.0" cy="878.3" r="0.9" fill="#9a9a9a" />
<circle cx="1003.0" cy="882.4" r="0.9" fill="#9a9a9a" />
<circle cx="1003.0" cy="886.5" r="0.9" fill="#9a9a9a" />
<circle cx="1003.0" cy="890.6" r="0.9" fill="#9a9a9a" />
<circle cx="1003.0" cy="894.7" r="0.9" fill="#9a9a9a" />
<circle cx="1003.0" cy="898.8" r="0.9" fill="#9a9a9a" />
<circle cx="1003.0" cy="902.9" r="0.9" fill="#9a9a9a" />
<circle cx="1003.0" cy="907.0" r="0.9" fill="#9a9a9a" />
<circle cx="1003.0" cy="911.1" r="0.9" fill="#9a9a9a" />
<circle cx="1003.0" cy="915.2" r="0.9" fill="#9a9a9a" />
<circle cx="1003.0" cy="919.3" r="0.9" fill="#9a9a9a" />
<circle cx="1003.0" cy="923.4" r="0.9" fill="#9a9a9a" />
<circle cx="1003.0" cy="927.5" r="0.9" fill="#9a9a9a" />
<circle cx="1003.0" cy="931.6" r="0.9" fill="#9a9a9a" />
<circle cx="1003.0" cy="935.7" r="0.9" fill="#9a9a9a" />
<circle cx="1003.0" cy="939.8" r="0.9" fill="#9a9a9a" />
<circle cx="1003.0" cy="943.9" r="0.9" fill="#9a9a9a" />
<rect x="1008.0" y="452.0" width="3.0" height="498.0" fill="url(#dimp)" />
<rect x="1018.0" y="452.0" width="3.0" height="498.0" fill="url(#dimp)" />
<rect x="1012.0" y="476.0" width="5.0" height="472.0" fill="#0b0b0b" />
<rect x="1006.0" y="447.0" width="17.0" height="29.0" fill="#202020" />
<rect x="1034.0" y="447.0" width="23.0" height="509.0" fill="#161616" />
<circle cx="1037.0" cy="456.0" r="0.9" fill="#9a9a9a" />
<circle cx="1037.0" cy="460.1" r="0.9" fill="#9a9a9a" />
<circle cx="1037.0" cy="464.2" r="0.9" fill="#9a9a9a" />
<circle cx="1037.0" cy="468.3" r="0.9" fill="#9a9a9a" />
<circle cx="1037.0" cy="472.4" r="0.9" fill="#9a9a9a" />
<circle cx="1037.0" cy="476.5" r="0.9" fill="#9a9a9a" />
<circle cx="1037.0" cy="480.6" r="0.9" fill="#9a9a9a" />
<circle cx="1037.0" cy="484.7" r="0.9" fill="#9a9a9a" />
<circle cx="1037.0" cy="488.8" r="0.9" fill="#9a9a9a" />
<circle cx="1037.0" cy="492.9" r="0.9" fill="#9a9a9a" />
<circle cx="1037.0" cy="497.0" r="0.9" fill="#9a9a9a" />
<circle cx="1037.0" cy="501.1" r="0.9" fill="#9a9a9a" />
<circle cx="1037.0" cy="505.2" r="0.9" fill="#9a9a9a" />
<circle cx="1037.0" cy="509.3" r="0.9" fill="#9a9a9a" />
<circle cx="1037.0" cy="513.4" r="0.9" fill="#9a9a9a" />
<circle cx="1037.0" cy="517.5" r="0.9" fill="#9a9a9a" />
<circle cx="1037.0" cy="521.6" r="0.9" fill="#9a9a9a" />
<circle cx="1037.0" cy="525.7" r="0.9" fill="#9a9a9a" />
<circle cx="1037.0" cy="529.8" r="0.9" fill="#9a9a9a" />
<circle cx="1037.0" cy="533.9" r="0.9" fill="#9a9a9a" />
<circle cx="1037.0" cy="538.0" r="0.9" fill="#9a9a9a" />
<circle cx="1037.0" cy="542.1" r="0.9" fill="#9a9a9a" />
<circle cx="1037.0" cy="546.2" r="0.9" fill="#9a9a9a" />
<circle cx="1037.0" cy="550.3" r="0.9" fill="#9a9a9a" />
<circle cx="1037.0" cy="554.4" r="0.9" fill="#9a9a9a" />
<circle cx="1037.0" cy="558.5" r="0.9" fill="#9a9a9a" />
<circle cx="1037.0" cy="562.6" r="0.9" fill="#9a9a9a" />
<circle cx="1037.0" cy="566.7" r="0.9" fill="#9a9a9a" />
<circle cx="1037.0" cy="570.8" r="0.9" fill="#9a9a9a" />
<circle cx="1037.0" cy="574.9" r="0.9" fill="#9a9a9a" />
<circle cx="1037.0" cy="579.0" r="0.9" fill="#9a9a9a" />
<circle cx="1037.0" cy="583.1" r="0.9" fill="#9a9a9a" />
<circle cx="1037.0" cy="587.2" r="0.9" fill="#9a9a9a" />
<circle cx="1037.0" cy="591.3" r="0.9" fill="#9a9a9a" />
<circle cx="1037.0" cy="595.4" r="0.9" fill="#9a9a9a" />
<circle cx="1037.0" cy="599.5" r="0.9" fill="#9a9a9a" />
<circle cx="1037.0" cy="603.6" r="0.9" fill="#9a9a9a" />
<circle cx="1037.0" cy="607.7" r="0.9" fill="#9a9a9a" />
<circle cx="1037.0" cy="611.8" r="0.9" fill="#9a9a9a" />
<circle cx="1037.0" cy="615.9" r="0.9" fill="#9a9a9a" />
<circle cx="1037.0" cy="620.0" r="0.9" fill="#9a9a9a" />
<circle cx="1037.0" cy="624.1" r="0.9" fill="#9a9a9a" />
<circle cx="1037.0" cy="628.2" r="0.9" fill="#9a9a9a" />
<circle cx="1037.0" cy="632.3" r="0.9" fill="#9a9a9a" />
<circle cx="1037.0" cy="636.4" r="0.9" fill="#9a9a9a" />
<circle cx="1037.0" cy="640.5" r="0.9" fill="#9a9a9a" />
<circle cx="1037.0" cy="644.6" r="0.9" fill="#9a9a9a" />
<circle cx="1037.0" cy="648.7" r="0.9" fill="#9a9a9a" />
<circle cx="1037.0" cy="652.8" r="0.9" fill="#9a9a9a" />
<circle cx="1037.0" cy="656.9" r="0.9" fill="#9a9a9a" />
<circle cx="1037.0" cy="661.0" r="0.9" fill="#9a9a9a" />
<circle cx="1037.0" cy="665.1" r="0.9" fill="#9a9a9a" />
<circle cx="1037.0" cy="669.2" r="0.9" fill="#9a9a9a" />
<circle cx="1037.0" cy="673.3" r="0.9" fill="#9a9a9a" />
<circle cx="1037.0" cy="677.4" r="0.9" fill="#9a9a9a" />
<circle cx="1037.0" cy="681.5" r="0.9" fill="#9a9a9a" />
<circle cx="1037.0" cy="685.6" r="0.9" fill="#9a9a9a" />
<circle cx="1037.0" cy="689.7" r="0.9" fill="#9a9a9a" />
<circle cx="1037.0" cy="693.8" r="0.9" fill="#9a9a9a" />
<circle cx="1037.0" cy="697.9" r="0.9" fill="#9a9a9a" />
<circle cx="1037.0" cy="702.0" r="0.9" fill="#9a9a9a" />
<circle cx="1037.0" cy="706.1" r="0.9" fill="#9a9a9a" />
<circle cx="1037.0" cy="710.2" r="0.9" fill="#9a9a9a" />
<circle cx="1037.0" cy="714.3" r="0.9" fill="#9a9a9a" />
<circle cx="1037.0" cy="718.4" r="0.9" fill="#9a9a9a" />
<circle cx="1037.0" cy="722.5" r="0.9" fill="#9a9a9a" />
<circle cx="1037.0" cy="726.6" r="0.9" fill="#9a9a9a" />
<circle cx="1037.0" cy="730.7" r="0.9" fill="#9a9a9a" />
<circle cx="1037.0" cy="734.8" r="0.9" fill="#9a9a9a" />
<circle cx="1037.0" cy="738.9" r="0.9" fill="#9a9a9a" />
<circle cx="1037.0" cy="743.0" r="0.9" fill="#9a9a9a" />
<circle cx="1037.0" cy="747.1" r="0.9" fill="#9a9a9a" />
<circle cx="1037.0" cy="751.2" r="0.9" fill="#9a9a9a" />
<circle cx="1037.0" cy="755.3" r="0.9" fill="#9a9a9a" />
<circle cx="1037.0" cy="759.4" r="0.9" fill="#9a9a9a" />
<circle cx="1037.0" cy="763.5" r="0.9" fill="#9a9a9a" />
<circle cx="1037.0" cy="767.6" r="0.9" fill="#9a9a9a" />
<circle cx="1037.0" cy="771.7" r="0.9" fill="#9a9a9a" />
<circle cx="1037.0" cy="775.8" r="0.9" fill="#9a9a9a" />
<circle cx="1037.0" cy="779.9" r="0.9" fill="#9a9a9a" />
<circle cx="1037.0" cy="784.0" r="0.9" fill="#9a9a9a" />
<circle cx="1037.0" cy="788.1" r="0.9" fill="#9a9a9a" />
<circle cx="1037.0" cy="792.2" r="0.9" fill="#9a9a9a" />
<circle cx="1037.0" cy="796.3" r="0.9" fill="#9a9a9a" />
<circle cx="1037.0" cy="800.4" r="0.9" fill="#9a9a9a" />
<circle cx="1037.0" cy="804.5" r="0.9" fill="#9a9a9a" />
<circle cx="1037.0" cy="808.6" r="0.9" fill="#9a9a9a" />
<circle cx="1037.0" cy="812.7" r="0.9" fill="#9a9a9a" />
<circle cx="1037.0" cy="816.8" r="0.9" fill="#9a9a9a" />
<circle cx="1037.0" cy="820.9" r="0.9" fill="#9a9a9a" />
<circle cx="1037.0" cy="825.0" r="0.9" fill="#9a9a9a" />
<circle cx="1037.0" cy="829.1" r="0.9" fill="#9a9a9a" />
<circle cx="1037.0" cy="833.2" r="0.9" fill="#9a9a9a" />
<circle cx="1037.0" cy="837.3" r="0.9" fill="#9a9a9a" />
<circle cx="1037.0" cy="841.4" r="0.9" fill="#9a9a9a" />
<circle cx="1037.0" cy="845.5" r="0.9" fill="#9a9a9a" />
<circle cx="1037.0" cy="849.6" r="0.9" fill="#9a9a9a" />
<circle cx="1037.0" cy="853.7" r="0.9" fill="#9a9a9a" />
<circle cx="1037.0" cy="857.8" r="0.9" fill="#9a9a9a" />
<circle cx="1037.0" cy="861.9" r="0.9" fill="#9a9a9a" />
<circle cx="1037.0" cy="866.0" r="0.9" fill="#9a9a9a" />
<circle cx="1037.0" cy="870.1" r="0.9" fill="#9a9a9a" />
<circle cx="1037.0" cy="874.2" r="0.9" fill="#9a9a9a" />
<circle cx="1037.0" cy="878.3" r="0.9" fill="#9a9a9a" />
<circle cx="1037.0" cy="882.4" r="0.9" fill="#9a9a9a" />
<circle cx="1037.0" cy="886.5" r="0.9" fill="#9a9a9a" />
<circle cx="1037.0" cy="890.6" r="0.9" fill="#9a9a9a" />
<circle cx="1037.0" cy="894.7" r="0.9" fill="#9a9a9a" />
<circle cx="1037.0" cy="898.8" r="0.9" fill="#9a9a9a" />
<circle cx="1037.0" cy="902.9" r="0.9" fill="#9a9a9a" />
<circle cx="1037.0" cy="907.0" r="0.9" fill="#9a9a9a" />
<circle cx="1037.0" cy="911.1" r="0.9" fill="#9a9a9a" />
<circle cx="1037.0" cy="915.2" r="0.9" fill="#9a9a9a" />
<circle cx="1037.0" cy="919.3" r="0.9" fill="#9a9a9a" />
<circle cx="1037.0" cy="923.4" r="0.9" fill="#9a9a9a" />
<circle cx="1037.0" cy="927.5" r="0.9" fill="#9a9a9a" />
<circle cx="1037.0" cy="931.6" r="0.9" fill="#9a9a9a" />
<circle cx="1037.0" cy="935.7" r="0.9" fill="#9a9a9a" />
<circle cx="1037.0" cy="939.8" r="0.9" fill="#9a9a9a" />
<circle cx="1037.0" cy="943.9" r="0.9" fill="#9a9a9a" />
<rect x="1042.0" y="452.0" width="3.0" height="498.0" fill="url(#dimp)" />
<rect x="1051.0" y="452.0" width="3.0" height="498.0" fill="url(#dimp)" />
<rect x="1046.0" y="476.0" width="4.0" height="472.0" fill="#0b0b0b" />
<rect x="1040.0" y="447.0" width="16.0" height="29.0" fill="#202020" />
<rect x="1024.0" y="452.0" width="10.0" height="503.0" fill="#262626" />
<polyline points="1025.0,515.0 1033.5,502.0" fill="none" stroke="#cfcfcf" stroke-width="4" stroke-linejoin="miter" stroke-linecap="butt"/>
<polyline points="1025.0,548.5 1033.5,535.5" fill="none" stroke="#cfcfcf" stroke-width="4" stroke-linejoin="miter" stroke-linecap="butt"/>
<polyline points="1025.0,582.0 1033.5,569.0" fill="none" stroke="#cfcfcf" stroke-width="4" stroke-linejoin="miter" stroke-linecap="butt"/>
<polyline points="1025.0,615.5 1033.5,602.5" fill="none" stroke="#cfcfcf" stroke-width="4" stroke-linejoin="miter" stroke-linecap="butt"/>
<polyline points="1025.0,649.0 1033.5,636.0" fill="none" stroke="#cfcfcf" stroke-width="4" stroke-linejoin="miter" stroke-linecap="butt"/>
<polyline points="1025.0,682.5 1033.5,669.5" fill="none" stroke="#cfcfcf" stroke-width="4" stroke-linejoin="miter" stroke-linecap="butt"/>
<polyline points="1025.0,716.0 1033.5,703.0" fill="none" stroke="#cfcfcf" stroke-width="4" stroke-linejoin="miter" stroke-linecap="butt"/>
<polyline points="1025.0,749.5 1033.5,736.5" fill="none" stroke="#cfcfcf" stroke-width="4" stroke-linejoin="miter" stroke-linecap="butt"/>
<polyline points="1025.0,783.0 1033.5,770.0" fill="none" stroke="#cfcfcf" stroke-width="4" stroke-linejoin="miter" stroke-linecap="butt"/>
<polyline points="1025.0,816.5 1033.5,803.5" fill="none" stroke="#cfcfcf" stroke-width="4" stroke-linejoin="miter" stroke-linecap="butt"/>
<polyline points="1025.0,850.0 1033.5,837.0" fill="none" stroke="#cfcfcf" stroke-width="4" stroke-linejoin="miter" stroke-linecap="butt"/>
<polyline points="1025.0,883.5 1033.5,870.5" fill="none" stroke="#cfcfcf" stroke-width="4" stroke-linejoin="miter" stroke-linecap="butt"/>
<polyline points="1025.0,917.0 1033.5,904.0" fill="none" stroke="#cfcfcf" stroke-width="4" stroke-linejoin="miter" stroke-linecap="butt"/>
<polyline points="1025.0,950.5 1033.5,937.5" fill="none" stroke="#cfcfcf" stroke-width="4" stroke-linejoin="miter" stroke-linecap="butt"/>
<rect x="1005.0" y="911.0" width="25.0" height="44.0" fill="#171717" stroke="#3a3a3a" stroke-width="1"/>
<rect x="1036.0" y="911.0" width="27.0" height="44.0" fill="#171717" stroke="#3a3a3a" stroke-width="1"/>
<rect x="1085.0" y="650.0" width="34.0" height="176.0" fill="#1e1e1e" stroke="#444" stroke-width="1"/>
<rect x="1088.0" y="653.0" width="13.0" height="12.0" fill="#0e0e0e" />
<rect x="1103.0" y="653.0" width="13.0" height="12.0" fill="#0e0e0e" />
<rect x="1088.0" y="667.3" width="13.0" height="12.0" fill="#0e0e0e" />
<rect x="1103.0" y="667.3" width="13.0" height="12.0" fill="#0e0e0e" />
<rect x="1088.0" y="681.6" width="13.0" height="12.0" fill="#0e0e0e" />
<rect x="1103.0" y="681.6" width="13.0" height="12.0" fill="#0e0e0e" />
<rect x="1088.0" y="695.9" width="13.0" height="12.0" fill="#0e0e0e" />
<rect x="1103.0" y="695.9" width="13.0" height="12.0" fill="#0e0e0e" />
<rect x="1088.0" y="710.2" width="13.0" height="12.0" fill="#0e0e0e" />
<rect x="1103.0" y="710.2" width="13.0" height="12.0" fill="#0e0e0e" />
<rect x="1088.0" y="724.5" width="13.0" height="12.0" fill="#0e0e0e" />
<rect x="1103.0" y="724.5" width="13.0" height="12.0" fill="#0e0e0e" />
<rect x="1088.0" y="738.8" width="13.0" height="12.0" fill="#0e0e0e" />
<rect x="1103.0" y="738.8" width="13.0" height="12.0" fill="#0e0e0e" />
<rect x="1088.0" y="753.1" width="13.0" height="12.0" fill="#0e0e0e" />
<rect x="1103.0" y="753.1" width="13.0" height="12.0" fill="#0e0e0e" />
<rect x="1088.0" y="767.4" width="13.0" height="12.0" fill="#0e0e0e" />
<rect x="1103.0" y="767.4" width="13.0" height="12.0" fill="#0e0e0e" />
<rect x="1088.0" y="781.7" width="13.0" height="12.0" fill="#0e0e0e" />
<rect x="1103.0" y="781.7" width="13.0" height="12.0" fill="#0e0e0e" />
<rect x="1088.0" y="796.0" width="13.0" height="12.0" fill="#0e0e0e" />
<rect x="1103.0" y="796.0" width="13.0" height="12.0" fill="#0e0e0e" />
<rect x="1088.0" y="810.3" width="13.0" height="12.0" fill="#0e0e0e" />
<rect x="1103.0" y="810.3" width="13.0" height="12.0" fill="#0e0e0e" />
<rect x="1069.0" y="535.0" width="24.0" height="24.0" fill="#8e8e8e" />
<circle cx="1072.6" cy="574.5" r="11.5" fill="#141414"/>
<circle cx="1071.6" cy="572.0" r="10.0" fill="url(#capg)"/>
<circle cx="1073.3" cy="599.5" r="11.5" fill="#141414"/>
<circle cx="1072.3" cy="597.0" r="10.0" fill="url(#capg)"/>
<circle cx="1103.5" cy="593.5" r="11.5" fill="#141414"/>
<circle cx="1102.5" cy="591.0" r="10.0" fill="url(#capg)"/>
<circle cx="1072.0" cy="809.5" r="11.5" fill="#141414"/>
<circle cx="1071.0" cy="807.0" r="10.0" fill="url(#capg)"/>
<circle cx="1019.0" cy="1080.5" r="11.5" fill="#141414"/>
<circle cx="1018.0" cy="1078.0" r="10.0" fill="url(#capg)"/>
<circle cx="1019.0" cy="1103.5" r="11.5" fill="#141414"/>
<circle cx="1018.0" cy="1101.0" r="10.0" fill="url(#capg)"/>
<circle cx="1074.0" cy="1073.5" r="11.5" fill="#141414"/>
<circle cx="1073.0" cy="1071.0" r="10.0" fill="url(#capg)"/>
<rect x="1076.0" y="511.0" width="24.0" height="18.0" fill="#151515" />
<rect x="1073.0" y="623.0" width="26.0" height="17.0" fill="#151515" />
<rect x="1034.0" y="1088.0" width="24.0" height="23.0" fill="#1a1a1a" />
<rect x="1067.0" y="1015.0" width="19.0" height="40.0" fill="#1c1c1c" stroke="#666" stroke-width="0.8"/>
<rect x="1093.0" y="827.0" width="26.0" height="60.0" fill="#151515" stroke="#6a6a6a" stroke-width="1.2"/>
<path d="M1100,837 L1112,837 L1112,877 L1104,877 L1104,869 L1100,869 Z" fill="none" stroke="#9a9a9a" stroke-width="1"/>
<rect x="1093.0" y="888.0" width="26.0" height="58.0" fill="#151515" stroke="#6a6a6a" stroke-width="1.2"/>
<path d="M1100,898 L1112,898 L1112,936 L1104,936 L1104,928 L1100,928 Z" fill="none" stroke="#9a9a9a" stroke-width="1"/>
<rect x="1093.0" y="1003.0" width="26.0" height="56.0" fill="#151515" stroke="#6a6a6a" stroke-width="1.2"/>
<path d="M1100,1013 L1112,1013 L1112,1049 L1104,1049 L1104,1041 L1100,1041 Z" fill="none" stroke="#9a9a9a" stroke-width="1"/>
<rect x="1093.0" y="1066.0" width="26.0" height="56.0" fill="#151515" stroke="#6a6a6a" stroke-width="1.2"/>
<path d="M1100,1076 L1112,1076 L1112,1112 L1104,1112 L1104,1104 L1100,1104 Z" fill="none" stroke="#9a9a9a" stroke-width="1"/>
<polyline points="1084.0,946.0 1095.0,965.0 1110.0,970.0" fill="none" stroke="#c8c8c8" stroke-width="4" stroke-linejoin="miter" stroke-linecap="butt"/>
<polyline points="1060.0,832.0 1085.0,860.0" fill="none" stroke="#bbbbbb" stroke-width="3" stroke-linejoin="miter" stroke-linecap="butt"/>
<polyline points="1062.0,1098.0 1080.0,1120.0" fill="none" stroke="#bbbbbb" stroke-width="3" stroke-linejoin="miter" stroke-linecap="butt"/>
<rect x="677.0" y="895.0" width="21.0" height="74.0" fill="#575b61" stroke="#2a2a2a" stroke-width="1"/>
<rect x="764.0" y="1004.0" width="23.0" height="73.0" fill="#575b61" stroke="#2a2a2a" stroke-width="1"/>
<rect x="701.0" y="973.0" width="298.0" height="28.0" fill="#111" stroke="#5a5a5a" stroke-width="1"/>
<rect x="705.0" y="978.0" width="290.0" height="5.0" fill="#222" />
<rect x="705.0" y="990.0" width="290.0" height="5.0" fill="#222" />
<rect x="1000.0" y="975.0" width="33.0" height="23.0" fill="#121212" />
<rect x="1034.0" y="960.0" width="45.0" height="49.0" fill="#2c2c2c" />
<rect x="702.0" y="1105.0" width="85.0" height="32.0" fill="#111" stroke="#5a5a5a" stroke-width="1"/>
<rect x="706.0" y="1112.0" width="77.0" height="5.0" fill="#252525" />
<rect x="706.0" y="1124.0" width="77.0" height="5.0" fill="#252525" />
<rect x="865.0" y="1026.0" width="17.0" height="14.0" fill="#151515" />
<rect x="820.0" y="1110.0" width="25.0" height="20.0" fill="#1a1a1a" />
<ellipse cx="663" cy="997" rx="9" ry="19" fill="#b8b8b8" stroke="#e0e0e0" stroke-width="2"/>
<ellipse cx="878" cy="1064" rx="8.5" ry="18.5" fill="#b4b4b4" stroke="#dcdcdc" stroke-width="2"/>
<rect x="825.0" y="1038.0" width="13.0" height="10.0" fill="#3a3a3a" />
<circle cx="831.0" cy="1081.0" r="37.0" fill="#161616" />
<circle cx="831.0" cy="1081.0" r="33.0" fill="#c4c4c4" />
<circle cx="829.0" cy="1079.0" r="27.0" fill="#d0d0d0" />
<circle cx="694.0" cy="986.5" r="10.5" fill="#141414"/>
<circle cx="693.0" cy="984.0" r="9.0" fill="url(#capg)"/>
<rect x="892.0" y="1019.5" width="113.0" height="106.5" fill="#d4d4d4" />
<rect x="892" y="1019.5" width="17" height="90" fill="url(#hsg2)"/>
<polygon points="892.0,1085.0 909.0,1100.0 930.0,1126.0 892.0,1126.0" fill="#e2e2e2" />
<rect x="992.0" y="1019.5" width="13.0" height="106.5" fill="#9a9a9a" />
<rect x="994.0" y="1030.0" width="7.0" height="88.0" fill="#7a7a7a" />
<polygon points="975.0,1019.5 992.0,1019.5 992.0,1050.0" fill="#e6e6e6" />
<circle cx="891.0" cy="1113.5" r="12.0" fill="#e8e8e8" />
<circle cx="891.0" cy="1113.5" r="8.5" fill="#0e0e0e" />
<circle cx="1010.0" cy="1031.0" r="8.5" fill="#0e0e0e" />
<rect x="612.0" y="1140.0" width="45.0" height="20.0" fill="#141414" stroke="#7a7a7a" stroke-width="1"/>
<circle cx="616.5" cy="1145.0" r="1.4" fill="#d6d6d6" />
<circle cx="616.5" cy="1155.0" r="1.4" fill="#d6d6d6" />
<circle cx="625.5" cy="1145.0" r="1.4" fill="#d6d6d6" />
<circle cx="625.5" cy="1155.0" r="1.4" fill="#d6d6d6" />
<circle cx="634.5" cy="1145.0" r="1.4" fill="#d6d6d6" />
<circle cx="634.5" cy="1155.0" r="1.4" fill="#d6d6d6" />
<circle cx="643.5" cy="1145.0" r="1.4" fill="#d6d6d6" />
<circle cx="643.5" cy="1155.0" r="1.4" fill="#d6d6d6" />
<circle cx="652.5" cy="1145.0" r="1.4" fill="#d6d6d6" />
<circle cx="652.5" cy="1155.0" r="1.4" fill="#d6d6d6" />
<rect x="663.0" y="1140.0" width="45.0" height="20.0" fill="#141414" stroke="#7a7a7a" stroke-width="1"/>
<circle cx="667.5" cy="1145.0" r="1.4" fill="#d6d6d6" />
<circle cx="667.5" cy="1155.0" r="1.4" fill="#d6d6d6" />
<circle cx="676.5" cy="1145.0" r="1.4" fill="#d6d6d6" />
<circle cx="676.5" cy="1155.0" r="1.4" fill="#d6d6d6" />
<circle cx="685.5" cy="1145.0" r="1.4" fill="#d6d6d6" />
<circle cx="685.5" cy="1155.0" r="1.4" fill="#d6d6d6" />
<circle cx="694.5" cy="1145.0" r="1.4" fill="#d6d6d6" />
<circle cx="694.5" cy="1155.0" r="1.4" fill="#d6d6d6" />
<circle cx="703.5" cy="1145.0" r="1.4" fill="#d6d6d6" />
<circle cx="703.5" cy="1155.0" r="1.4" fill="#d6d6d6" />
<rect x="714.0" y="1140.0" width="45.0" height="20.0" fill="#141414" stroke="#7a7a7a" stroke-width="1"/>
<circle cx="718.5" cy="1145.0" r="1.4" fill="#d6d6d6" />
<circle cx="718.5" cy="1155.0" r="1.4" fill="#d6d6d6" />
<circle cx="727.5" cy="1145.0" r="1.4" fill="#d6d6d6" />
<circle cx="727.5" cy="1155.0" r="1.4" fill="#d6d6d6" />
<circle cx="736.5" cy="1145.0" r="1.4" fill="#d6d6d6" />
<circle cx="736.5" cy="1155.0" r="1.4" fill="#d6d6d6" />
<circle cx="745.5" cy="1145.0" r="1.4" fill="#d6d6d6" />
<circle cx="745.5" cy="1155.0" r="1.4" fill="#d6d6d6" />
<circle cx="754.5" cy="1145.0" r="1.4" fill="#d6d6d6" />
<circle cx="754.5" cy="1155.0" r="1.4" fill="#d6d6d6" />
<rect x="762.0" y="1140.0" width="45.0" height="20.0" fill="#141414" stroke="#7a7a7a" stroke-width="1"/>
<circle cx="766.5" cy="1145.0" r="1.4" fill="#d6d6d6" />
<circle cx="766.5" cy="1155.0" r="1.4" fill="#d6d6d6" />
<circle cx="775.5" cy="1145.0" r="1.4" fill="#d6d6d6" />
<circle cx="775.5" cy="1155.0" r="1.4" fill="#d6d6d6" />
<circle cx="784.5" cy="1145.0" r="1.4" fill="#d6d6d6" />
<circle cx="784.5" cy="1155.0" r="1.4" fill="#d6d6d6" />
<circle cx="793.5" cy="1145.0" r="1.4" fill="#d6d6d6" />
<circle cx="793.5" cy="1155.0" r="1.4" fill="#d6d6d6" />
<circle cx="802.5" cy="1145.0" r="1.4" fill="#d6d6d6" />
<circle cx="802.5" cy="1155.0" r="1.4" fill="#d6d6d6" />
<rect x="811.0" y="1140.0" width="44.0" height="20.0" fill="#141414" stroke="#7a7a7a" stroke-width="1"/>
<circle cx="815.4" cy="1145.0" r="1.4" fill="#d6d6d6" />
<circle cx="815.4" cy="1155.0" r="1.4" fill="#d6d6d6" />
<circle cx="824.2" cy="1145.0" r="1.4" fill="#d6d6d6" />
<circle cx="824.2" cy="1155.0" r="1.4" fill="#d6d6d6" />
<circle cx="833.0" cy="1145.0" r="1.4" fill="#d6d6d6" />
<circle cx="833.0" cy="1155.0" r="1.4" fill="#d6d6d6" />
<circle cx="841.8" cy="1145.0" r="1.4" fill="#d6d6d6" />
<circle cx="841.8" cy="1155.0" r="1.4" fill="#d6d6d6" />
<circle cx="850.6" cy="1145.0" r="1.4" fill="#d6d6d6" />
<circle cx="850.6" cy="1155.0" r="1.4" fill="#d6d6d6" />
<rect x="864.0" y="1138.0" width="75.0" height="24.0" fill="#141414" stroke="#7a7a7a" stroke-width="1"/>
<circle cx="868.2" cy="1144.0" r="1.4" fill="#d6d6d6" />
<circle cx="868.2" cy="1156.0" r="1.4" fill="#d6d6d6" />
<circle cx="876.5" cy="1144.0" r="1.4" fill="#d6d6d6" />
<circle cx="876.5" cy="1156.0" r="1.4" fill="#d6d6d6" />
<circle cx="884.8" cy="1144.0" r="1.4" fill="#d6d6d6" />
<circle cx="884.8" cy="1156.0" r="1.4" fill="#d6d6d6" />
<circle cx="893.2" cy="1144.0" r="1.4" fill="#d6d6d6" />
<circle cx="893.2" cy="1156.0" r="1.4" fill="#d6d6d6" />
<circle cx="901.5" cy="1144.0" r="1.4" fill="#d6d6d6" />
<circle cx="901.5" cy="1156.0" r="1.4" fill="#d6d6d6" />
<circle cx="909.8" cy="1144.0" r="1.4" fill="#d6d6d6" />
<circle cx="909.8" cy="1156.0" r="1.4" fill="#d6d6d6" />
<circle cx="918.2" cy="1144.0" r="1.4" fill="#d6d6d6" />
<circle cx="918.2" cy="1156.0" r="1.4" fill="#d6d6d6" />
<circle cx="926.5" cy="1144.0" r="1.4" fill="#d6d6d6" />
<circle cx="926.5" cy="1156.0" r="1.4" fill="#d6d6d6" />
<circle cx="934.8" cy="1144.0" r="1.4" fill="#d6d6d6" />
<circle cx="934.8" cy="1156.0" r="1.4" fill="#d6d6d6" />
<rect x="977.0" y="1145.0" width="32.0" height="15.0" fill="#141414" stroke="#7a7a7a" stroke-width="1"/>
<circle cx="981.0" cy="1152.5" r="1.4" fill="#d6d6d6" />
<circle cx="989.0" cy="1152.5" r="1.4" fill="#d6d6d6" />
<circle cx="997.0" cy="1152.5" r="1.4" fill="#d6d6d6" />
<circle cx="1005.0" cy="1152.5" r="1.4" fill="#d6d6d6" />
<rect x="1013.0" y="1145.0" width="15.0" height="15.0" fill="#141414" stroke="#7a7a7a" stroke-width="1"/>
<circle cx="1016.8" cy="1152.5" r="1.4" fill="#d6d6d6" />
<circle cx="1024.2" cy="1152.5" r="1.4" fill="#d6d6d6" />
<circle cx="959.0" cy="1151.5" r="10.5" fill="#141414"/>
<circle cx="958.0" cy="1149.0" r="9.0" fill="url(#capg)"/>
<rect x="1047.0" y="1138.0" width="43.0" height="20.0" fill="#d4d040" />
<circle cx="1051.5" cy="1143.0" r="2.8" fill="#40c040" />
<circle cx="1060.1" cy="1143.0" r="2.8" fill="#e8e040" />
<circle cx="1068.7" cy="1143.0" r="2.8" fill="#e8e040" />
<circle cx="1077.3" cy="1143.0" r="2.8" fill="#e0e040" />
<circle cx="1085.9" cy="1143.0" r="2.8" fill="#e8d040" />
<circle cx="1051.5" cy="1152.5" r="3.2" fill="#e8a030" />
<circle cx="1060.1" cy="1152.5" r="3.2" fill="#e03a2a" />
<circle cx="1068.7" cy="1152.5" r="3.2" fill="#3a8ae0" />
<circle cx="1077.3" cy="1152.5" r="3.2" fill="#3a8ae0" />
<circle cx="1085.9" cy="1152.5" r="3.2" fill="#40b0e0" />
<rect x="547.0" y="432.0" width="63.0" height="54.0" fill="#d8d8d8" />
<rect x="551.0" y="443.0" width="56.0" height="5.0" fill="#bcbcbc" />
<rect x="551.0" y="470.0" width="56.0" height="5.0" fill="#bcbcbc" />
<polygon points="610.0,432.0 616.0,444.0 616.0,486.0 610.0,486.0" fill="#9c9c9c" />
<polygon points="547.0,486.0 562.0,486.0 562.0,504.0 551.0,496.0" fill="#b8b8b8" />
<rect x="558.0" y="538.0" width="38.0" height="48.0" fill="#d6d6d6" />
<polyline points="580.0,543.0 568.0,543.0 566.0,548.0 568.0,553.0 580.0,553.0" fill="none" stroke="#1a1a1a" stroke-width="2.5" stroke-linejoin="miter" stroke-linecap="butt"/>
<polyline points="580.0,571.0 568.0,571.0 566.0,576.0 568.0,581.0 580.0,581.0" fill="none" stroke="#1a1a1a" stroke-width="2.5" stroke-linejoin="miter" stroke-linecap="butt"/>
<rect x="597.0" y="540.0" width="7.0" height="45.0" fill="#303030" />
<rect x="542.0" y="626.0" width="16.0" height="17.0" fill="#c8c8c8" />
<rect x="537.0" y="649.0" width="21.0" height="52.0" fill="#d0d0d0" />
<rect x="542.0" y="709.0" width="16.0" height="18.0" fill="#c8c8c8" />
<rect x="557.0" y="624.0" width="34.0" height="104.0" fill="#2452c8" />
<rect x="563.0" y="628.0" width="25.0" height="95.0" fill="#3469dc" />
<rect x="572.0" y="640.0" width="14.0" height="72.0" fill="#3f78e6" />
<rect x="552.0" y="737.0" width="61.0" height="44.0" fill="#d6d6d6" />
<polyline points="575.0,744.0 566.0,746.0 562.0,751.0 566.0,755.0 575.0,758.0" fill="none" stroke="#1e1e1e" stroke-width="2.5" stroke-linejoin="miter" stroke-linecap="butt"/>
<polyline points="575.0,765.0 566.0,767.0 562.0,772.0 566.0,776.0 575.0,779.0" fill="none" stroke="#1e1e1e" stroke-width="2.5" stroke-linejoin="miter" stroke-linecap="butt"/>
<rect x="560.0" y="781.0" width="59.0" height="17.0" fill="#c8c8c8" />
<circle cx="595.0" cy="787.0" r="4.0" fill="none" stroke="#b07050" stroke-width="1.8"/>
<circle cx="612.0" cy="787.0" r="4.0" fill="none" stroke="#b07050" stroke-width="1.8"/>
<rect x="554.0" y="798.0" width="58.0" height="40.0" fill="#d6d6d6" />
<rect x="555.0" y="802.0" width="4.0" height="32.0" fill="#2a5ad0" />
<polyline points="566.0,804.0 560.0,808.0 560.0,815.0 566.0,818.0" fill="none" stroke="#2a5ad0" stroke-width="2" stroke-linejoin="miter" stroke-linecap="butt"/>
<polyline points="566.0,822.0 560.0,825.0 560.0,832.0 566.0,835.0" fill="none" stroke="#2a5ad0" stroke-width="2" stroke-linejoin="miter" stroke-linecap="butt"/>
<rect x="555.0" y="853.0" width="53.0" height="55.0" fill="#d4d4d4" />
<rect x="546.0" y="918.0" width="74.0" height="44.0" fill="#d0d0d0" />
<rect x="547.0" y="939.0" width="73.0" height="2.0" fill="#a8a8a8" />
<rect x="536.0" y="927.0" width="11.0" height="25.0" fill="#3a9ae8" />
<polyline points="600.0,1060.0 640.0,1020.0" fill="none" stroke="#d8d8d8" stroke-width="8" stroke-linejoin="miter" stroke-linecap="butt"/>
<polyline points="610.0,1073.0 660.0,1020.0" fill="none" stroke="#bbbbbb" stroke-width="4" stroke-linejoin="miter" stroke-linecap="butt"/>
<polyline points="700.0,1073.0 760.0,1010.0" fill="none" stroke="#bbbbbb" stroke-width="3" stroke-linejoin="miter" stroke-linecap="butt"/>
<polyline points="720.0,1073.0 764.0,1028.0" fill="none" stroke="#bbbbbb" stroke-width="3" stroke-linejoin="miter" stroke-linecap="butt"/>
<polyline points="700.0,930.0 725.0,905.0" fill="none" stroke="#cccccc" stroke-width="6" stroke-linejoin="miter" stroke-linecap="butt"/>
<polyline points="850.0,971.0 880.0,945.0" fill="none" stroke="#bbbbbb" stroke-width="6" stroke-linejoin="miter" stroke-linecap="butt"/>
<polyline points="880.0,971.0 910.0,945.0" fill="none" stroke="#bbbbbb" stroke-width="6" stroke-linejoin="miter" stroke-linecap="butt"/>
<rect x="699" y="900" width="260" height="71" fill="url(#m2g)" opacity="0.84"/>
<rect x="599" y="1005" width="165" height="68" fill="url(#m2g)" opacity="0.84"/>
<text x="747.5" y="945.5" font-size="28" fill="#3a1208" text-anchor="start" font-weight="bold" textLength="140.5" lengthAdjust="spacingAndGlyphs" opacity="0.85">M.2 NVME</text>
<text x="629.0" y="1049.5" font-size="28" fill="#3a1208" text-anchor="start" font-weight="bold" textLength="120.0" lengthAdjust="spacingAndGlyphs" opacity="0.85">M.2 WiFi</text>
<text x="746.0" y="944.0" font-size="28" fill="#ffffff" text-anchor="start" font-weight="bold" textLength="140.5" lengthAdjust="spacingAndGlyphs">M.2 NVME</text>
<text x="627.5" y="1048.0" font-size="28" fill="#ffffff" text-anchor="start" font-weight="bold" textLength="120.0" lengthAdjust="spacingAndGlyphs">M.2 WiFi</text>
</g>
<text x="527.5" y="411.7" font-size="16.5" fill="#ea7d3e" text-anchor="start" font-weight="normal" textLength="144.5" lengthAdjust="spacingAndGlyphs">8Pin Power Supply</text>
<polyline points="677.5,411.0 718.7,411.0 718.7,464.0" fill="none" stroke="#e2602a" stroke-width="2" stroke-linejoin="miter" stroke-linecap="butt"/>
<text x="758.0" y="408.3" font-size="16.5" fill="#ea7d3e" text-anchor="start" font-weight="normal" textLength="176.0" lengthAdjust="spacingAndGlyphs">4Pin CPU_Fan Header</text>
<polyline points="916.5,414.7 916.5,458.0" fill="none" stroke="#e2602a" stroke-width="2" stroke-linejoin="miter" stroke-linecap="butt"/>
<text x="953.5" y="413.2" font-size="16.5" fill="#ea7d3e" text-anchor="start" font-weight="normal" textLength="173.0" lengthAdjust="spacingAndGlyphs">4Pin SYS_Fan Header</text>
<polyline points="970.5,417.7 970.5,463.5" fill="none" stroke="#e2602a" stroke-width="2" stroke-linejoin="miter" stroke-linecap="butt"/>
<text x="1072.7" y="437.2" font-size="16.5" fill="#ea7d3e" text-anchor="start" font-weight="normal" textLength="102.0" lengthAdjust="spacingAndGlyphs">2* DDR4 Slot</text>
<polyline points="1069.0,432.7 1015.7,432.7 1015.7,505.0" fill="none" stroke="#e2602a" stroke-width="2" stroke-linejoin="miter" stroke-linecap="butt"/>
<polyline points="1046.5,432.7 1046.5,510.0" fill="none" stroke="#e2602a" stroke-width="2" stroke-linejoin="miter" stroke-linecap="butt"/>
<text x="521.5" y="459.5" font-size="16.5" fill="#ea7d3e" text-anchor="end" font-weight="normal" textLength="85.0" lengthAdjust="spacingAndGlyphs">2*USB2.0+</text>
<text x="521.5" y="476.7" font-size="16.5" fill="#ea7d3e" text-anchor="end" font-weight="normal" textLength="36.0" lengthAdjust="spacingAndGlyphs">PS/2</text>
<text x="521.5" y="494.7" font-size="16.5" fill="#ea7d3e" text-anchor="end" font-weight="normal" textLength="140.3" lengthAdjust="spacingAndGlyphs">Keyboard/Mouse</text>
<polyline points="525.0,458.0 570.0,458.0" fill="none" stroke="#e2602a" stroke-width="2" stroke-linejoin="miter" stroke-linecap="butt"/>
<text x="534.0" y="566.0" font-size="16.5" fill="#ea7d3e" text-anchor="end" font-weight="normal" textLength="23.0" lengthAdjust="spacingAndGlyphs">HD</text>
<polyline points="538.0,559.2 570.0,559.2" fill="none" stroke="#e2602a" stroke-width="2" stroke-linejoin="miter" stroke-linecap="butt"/>
<text x="514.0" y="676.3" font-size="16.5" fill="#ea7d3e" text-anchor="end" font-weight="normal" textLength="35.3" lengthAdjust="spacingAndGlyphs">VGA</text>
<polyline points="517.0,669.2 549.0,669.2" fill="none" stroke="#e2602a" stroke-width="2" stroke-linejoin="miter" stroke-linecap="butt"/>
<text x="530.2" y="766.7" font-size="16.5" fill="#ea7d3e" text-anchor="end" font-weight="normal" textLength="74.7" lengthAdjust="spacingAndGlyphs">2*USB2.0</text>
<polyline points="532.7,759.2 568.7,759.2" fill="none" stroke="#e2602a" stroke-width="2" stroke-linejoin="miter" stroke-linecap="butt"/>
<text x="505.7" y="827.2" font-size="16.5" fill="#ea7d3e" text-anchor="end" font-weight="normal" textLength="75.0" lengthAdjust="spacingAndGlyphs">2*USB3.0</text>
<polyline points="510.0,820.8 568.7,820.8" fill="none" stroke="#e2602a" stroke-width="2" stroke-linejoin="miter" stroke-linecap="butt"/>
<text x="505.0" y="889.2" font-size="16.5" fill="#ea7d3e" text-anchor="end" font-weight="normal" textLength="123.3" lengthAdjust="spacingAndGlyphs">Gigabit Ethernet</text>
<polyline points="508.7,885.0 568.0,885.0" fill="none" stroke="#e2602a" stroke-width="2" stroke-linejoin="miter" stroke-linecap="butt"/>
<text x="523.0" y="949.7" font-size="16.5" fill="#ea7d3e" text-anchor="end" font-weight="normal" textLength="87.8" lengthAdjust="spacingAndGlyphs">3-in-1Audio</text>
<polyline points="526.7,945.7 562.0,945.7" fill="none" stroke="#e2602a" stroke-width="2" stroke-linejoin="miter" stroke-linecap="butt"/>
<text x="523.0" y="992.2" font-size="16.5" fill="#ea7d3e" text-anchor="end" font-weight="normal" textLength="122.3" lengthAdjust="spacingAndGlyphs">1* PCIE 3.0 X16</text>
<polyline points="527.5,987.2 740.0,987.2" fill="none" stroke="#e2602a" stroke-width="2" stroke-linejoin="miter" stroke-linecap="butt"/>
<text x="489.0" y="1133.3" font-size="16.5" fill="#ea7d3e" text-anchor="end" font-weight="normal" textLength="112.5" lengthAdjust="spacingAndGlyphs">1* PCIE 2.0 X1</text>
<polyline points="489.0,1128.2 684.0,1128.2" fill="none" stroke="#e2602a" stroke-width="2" stroke-linejoin="miter" stroke-linecap="butt"/>
<text x="1157.2" y="725.7" font-size="16.5" fill="#ea7d3e" text-anchor="start" font-weight="normal" textLength="82.0" lengthAdjust="spacingAndGlyphs">24Pin ATX</text>
<text x="1157.5" y="743.0" font-size="16.5" fill="#ea7d3e" text-anchor="start" font-weight="normal" textLength="105.7" lengthAdjust="spacingAndGlyphs">Power Supply</text>
<polyline points="1109.2,728.0 1153.0,728.0" fill="none" stroke="#e2602a" stroke-width="2" stroke-linejoin="miter" stroke-linecap="butt"/>
<text x="1188.2" y="897.5" font-size="16.5" fill="#ea7d3e" text-anchor="start" font-weight="normal" textLength="89.3" lengthAdjust="spacingAndGlyphs">4* SATA3.0</text>
<polyline points="1105.5,858.3 1156.0,858.3 1156.0,1097.0 1109.0,1097.0" fill="none" stroke="#e2602a" stroke-width="2" stroke-linejoin="miter" stroke-linecap="butt"/>
<polyline points="1109.0,919.5 1156.0,919.5" fill="none" stroke="#e2602a" stroke-width="2" stroke-linejoin="miter" stroke-linecap="butt"/>
<polyline points="1109.0,1034.0 1156.0,1034.0" fill="none" stroke="#e2602a" stroke-width="2" stroke-linejoin="miter" stroke-linecap="butt"/>
<polyline points="1156.0,889.5 1183.7,889.5" fill="none" stroke="#e2602a" stroke-width="2" stroke-linejoin="miter" stroke-linecap="butt"/>
<text x="595.5" y="1205.7" font-size="16.5" fill="#ea7d3e" text-anchor="end" font-weight="normal" textLength="79.0" lengthAdjust="spacingAndGlyphs">1*F_Audio</text>
<polyline points="600.0,1202.5 621.7,1202.5 621.7,1152.0" fill="none" stroke="#e2602a" stroke-width="2" stroke-linejoin="miter" stroke-linecap="butt"/>
<text x="653.2" y="1249.7" font-size="16.5" fill="#ea7d3e" text-anchor="end" font-weight="normal" textLength="100.5" lengthAdjust="spacingAndGlyphs">COM Header</text>
<polyline points="657.7,1246.0 688.5,1246.0 688.5,1152.0" fill="none" stroke="#e2602a" stroke-width="2" stroke-linejoin="miter" stroke-linecap="butt"/>
<text x="690.7" y="1276.7" font-size="16.5" fill="#ea7d3e" text-anchor="end" font-weight="normal" textLength="121.5" lengthAdjust="spacingAndGlyphs">DEBUG Header</text>
<polyline points="694.5,1272.2 732.5,1272.2 732.5,1152.0" fill="none" stroke="#e2602a" stroke-width="2" stroke-linejoin="miter" stroke-linecap="butt"/>
<text x="729.0" y="1310.5" font-size="16.5" fill="#ea7d3e" text-anchor="start" font-weight="normal" textLength="161.2" lengthAdjust="spacingAndGlyphs">2*F_USB 2.0 Header</text>
<polyline points="782.2,1294.0 782.2,1152.0" fill="none" stroke="#e2602a" stroke-width="2" stroke-linejoin="miter" stroke-linecap="butt"/>
<polyline points="782.2,1187.5 830.7,1187.5 830.7,1152.0" fill="none" stroke="#e2602a" stroke-width="2" stroke-linejoin="miter" stroke-linecap="butt"/>
<text x="818.2" y="1263.2" font-size="16.5" fill="#ea7d3e" text-anchor="start" font-weight="normal" textLength="144.0" lengthAdjust="spacingAndGlyphs">F_USB 3.0 Header</text>
<polyline points="895.2,1246.0 895.2,1152.0" fill="none" stroke="#e2602a" stroke-width="2" stroke-linejoin="miter" stroke-linecap="butt"/>
<text x="969.8" y="1245.5" font-size="16.5" fill="#ea7d3e" text-anchor="start" font-weight="normal" textLength="80.5" lengthAdjust="spacingAndGlyphs">SPEAKER</text>
<polyline points="990.2,1228.0 990.2,1157.0" fill="none" stroke="#e2602a" stroke-width="2" stroke-linejoin="miter" stroke-linecap="butt"/>
<text x="1009.7" y="1215.4" font-size="16.5" fill="#ea7d3e" text-anchor="start" font-weight="normal" textLength="81.7" lengthAdjust="spacingAndGlyphs">AUTO_ON</text>
<polyline points="1024.5,1200.0 1024.5,1157.0" fill="none" stroke="#e2602a" stroke-width="2" stroke-linejoin="miter" stroke-linecap="butt"/>
<polyline points="1087.0,1150.6 1206.0,1150.6 1206.0,1267.4" fill="none" stroke="#e2602a" stroke-width="2" stroke-linejoin="miter" stroke-linecap="butt"/>
<rect x="992.1" y="1267.4" width="317.7" height="157.9" fill="none" stroke="#e2602a" stroke-width="2.2"/>
<text x="1009.7" y="1297.8" font-size="16.8" fill="#f06a2c" text-anchor="start" font-weight="bold" textLength="95.7" lengthAdjust="spacingAndGlyphs">POWER LED</text>
<text x="1205.2" y="1297.2" font-size="16.8" fill="#f06a2c" text-anchor="start" font-weight="bold" textLength="90.4" lengthAdjust="spacingAndGlyphs">POWER SW</text>
<text x="1033.1" y="1409.8" font-size="16.8" fill="#f06a2c" text-anchor="start" font-weight="bold" textLength="72.3" lengthAdjust="spacingAndGlyphs">HDD LED</text>
<text x="1202.0" y="1409.8" font-size="16.8" fill="#f06a2c" text-anchor="start" font-weight="bold" textLength="81.9" lengthAdjust="spacingAndGlyphs">RESET SW</text>
<g fill="none" stroke="#e2602a" stroke-width="2">
<rect x="1109.6" y="1323.7" width="114.4" height="44.7"/>
<rect x="1125.6" y="1314.2" width="18.7" height="9.5"/>
<rect x="1163.8" y="1314.2" width="19.2" height="9.5"/>
<rect x="1125.6" y="1368.4" width="18.7" height="9.1"/>
<rect x="1163.8" y="1368.4" width="19.2" height="9.1"/>
<polyline points="1113.9,1288.7 1134.7,1288.7 1134.7,1314.2"/>
<polyline points="1194.6,1288.7 1173.8,1288.7 1173.8,1314.2"/>
<polyline points="1113.9,1401.3 1134.7,1401.3 1134.7,1377.5"/>
<polyline points="1194.6,1401.3 1173.8,1401.3 1173.8,1377.5"/>
</g>
<circle cx="1124.9" cy="1336.5" r="6.0" fill="#fb5a14" />
<circle cx="1144.0" cy="1336.5" r="6.0" fill="#fb5a14" />
<circle cx="1163.2" cy="1336.5" r="6.0" fill="#fb5a14" />
<circle cx="1183.6" cy="1336.5" r="6.0" fill="#fb5a14" />
<circle cx="1124.9" cy="1355.6" r="6.0" fill="#fb5a14" />
<circle cx="1144.0" cy="1355.6" r="6.0" fill="#fb5a14" />
<circle cx="1163.2" cy="1355.6" r="6.0" fill="#fb5a14" />
<circle cx="1183.6" cy="1355.6" r="6.0" fill="#fb5a14" />
<circle cx="1203.1" cy="1355.6" r="6.0" fill="#fb5a14" />
<rect x="334.4" y="1536.5" width="589.9" height="3.8" fill="#857c6c" />
<rect x="336.2" y="1446.0" width="48.8" height="89.0" fill="#e2e2e2" />
<rect x="341.9" y="1453.4" width="38.4" height="16.0" fill="#1c1c1c" stroke="#9a9a9a" stroke-width="1"/>
<rect x="345.0" y="1457.4" width="32.0" height="4.0" fill="#4a4a4a" />
<rect x="341.9" y="1477.8" width="38.4" height="16.0" fill="#1c1c1c" stroke="#9a9a9a" stroke-width="1"/>
<rect x="345.0" y="1481.8" width="32.0" height="4.0" fill="#4a4a4a" />
<circle cx="361.0" cy="1518.0" r="15.5" fill="#2a2a2a" />
<path d="M361,1503.5 A14.5,14.5 0 0 0 361,1532.5 Z" fill="#2f6fd6"/>
<path d="M361,1503.5 A14.5,14.5 0 0 1 361,1532.5 Z" fill="#2aa865"/>
<rect x="358.0" y="1509.0" width="6.0" height="8.0" fill="#111" />
<path d="M398,1513.4 L455.3,1513.4 L455.3,1526 L447,1535 L406,1535 L398,1526 Z" fill="#151515" stroke="#e8e8e8" stroke-width="2.2"/>
<rect x="408.0" y="1521.0" width="38.0" height="4.0" fill="#3a3a3a" />
<rect x="471.6" y="1488.0" width="119.3" height="48.0" fill="#d2d2d2" />
<path d="M499.4,1496.6 L562.2,1496.6 L557,1529.4 L504.6,1529.4 Z" fill="#3b8af0" stroke="#c0c0c0" stroke-width="2.5"/>
<circle cx="509.0" cy="1503.5" r="1.8" fill="#0e2e70" />
<circle cx="518.5" cy="1503.5" r="1.8" fill="#0e2e70" />
<circle cx="528.0" cy="1503.5" r="1.8" fill="#0e2e70" />
<circle cx="537.5" cy="1503.5" r="1.8" fill="#0e2e70" />
<circle cx="547.0" cy="1503.5" r="1.8" fill="#0e2e70" />
<circle cx="511.5" cy="1512.5" r="1.8" fill="#0e2e70" />
<circle cx="521.0" cy="1512.5" r="1.8" fill="#0e2e70" />
<circle cx="530.5" cy="1512.5" r="1.8" fill="#0e2e70" />
<circle cx="540.0" cy="1512.5" r="1.8" fill="#0e2e70" />
<circle cx="549.5" cy="1512.5" r="1.8" fill="#0e2e70" />
<circle cx="514.0" cy="1521.5" r="1.8" fill="#0e2e70" />
<circle cx="523.5" cy="1521.5" r="1.8" fill="#0e2e70" />
<circle cx="533.0" cy="1521.5" r="1.8" fill="#0e2e70" />
<circle cx="542.5" cy="1521.5" r="1.8" fill="#0e2e70" />
<circle cx="552.0" cy="1521.5" r="1.8" fill="#0e2e70" />
<circle cx="482.1" cy="1512.0" r="9.5" fill="#8a8a8a" />
<circle cx="482.1" cy="1512.0" r="7.0" fill="#dcdcdc" />
<circle cx="482.1" cy="1512.0" r="4.0" fill="#7a7a7a" />
<circle cx="579.1" cy="1512.0" r="9.5" fill="#8a8a8a" />
<circle cx="579.1" cy="1512.0" r="7.0" fill="#dcdcdc" />
<circle cx="579.1" cy="1512.0" r="4.0" fill="#7a7a7a" />
<rect x="609.3" y="1480" width="52.2" height="54" rx="2" fill="#f0f0f0"/>
<rect x="613.8" y="1484.0" width="43.8" height="17.0" fill="#1a1a1a" />
<rect x="617.0" y="1488.0" width="37.0" height="6.0" fill="#555" />
<rect x="613.8" y="1501.0" width="43.8" height="13.4" fill="#d8d8d8" />
<rect x="613.8" y="1514.4" width="43.8" height="16.9" fill="#1a1a1a" />
<rect x="617.0" y="1518.0" width="37.0" height="6.0" fill="#555" />
<rect x="671.8" y="1479.5" width="52.2" height="54.5" rx="2" fill="#f0f0f0"/>
<rect x="675.5" y="1483.5" width="45.0" height="17.5" fill="#1a1a1a" />
<rect x="676.0" y="1485.0" width="44.0" height="8.0" fill="#2f6fd8" />
<rect x="675.5" y="1501.0" width="45.0" height="13.0" fill="#d8d8d8" />
<rect x="675.5" y="1514.0" width="45.0" height="17.3" fill="#1a1a1a" />
<rect x="676.0" y="1516.6" width="44.0" height="6.8" fill="#2f6fd8" />
<rect x="735.3" y="1489.6" width="59.6" height="46.2" fill="#d8d8d8" />
<rect x="741.0" y="1495.0" width="48.0" height="36.0" fill="#161616" />
<rect x="745.0" y="1505.0" width="40.0" height="15.0" fill="#2a2a2a" />
<rect x="742.0" y="1495.0" width="10.0" height="5.0" fill="#c8d040" />
<rect x="778.0" y="1495.0" width="10.0" height="5.0" fill="#c8d040" />
<rect x="805.7" y="1399.6" width="48.3" height="133.9" fill="#d6d6d6" />
<circle cx="829.8" cy="1424.4" r="13.8" fill="#2f8ee8" />
<circle cx="829.8" cy="1424.4" r="7.5" fill="#141414" />
<circle cx="829.8" cy="1467.1" r="13.8" fill="#58c850" />
<circle cx="829.8" cy="1467.1" r="7.5" fill="#141414" />
<circle cx="829.8" cy="1509.9" r="13.8" fill="#e884b0" />
<circle cx="829.8" cy="1509.9" r="7.5" fill="#141414" />
<text x="326.0" y="1423.4" font-size="19" fill="#f0602a" text-anchor="start" font-weight="normal" textLength="60.9" lengthAdjust="spacingAndGlyphs">USB2.0</text>
<polygon points="349.4,1428.0 361.6,1428.0 355.5,1442.2" fill="#f0602a" />
<text x="408.4" y="1489.0" font-size="19" fill="#f0602a" text-anchor="start" font-weight="normal" textLength="26.3" lengthAdjust="spacingAndGlyphs">HD</text>
<polygon points="416.0,1495.6 428.0,1495.6 422.0,1510.6" fill="#f0602a" />
<text x="334.0" y="1579.1" font-size="19" fill="#f0602a" text-anchor="start" font-weight="normal" textLength="38.8" lengthAdjust="spacingAndGlyphs">PS/2</text>
<polygon points="356.6,1543.4 362.9,1556.6 350.3,1556.6" fill="#f0602a" />
<text x="506.0" y="1579.0" font-size="19" fill="#f0602a" text-anchor="start" font-weight="normal" textLength="38.4" lengthAdjust="spacingAndGlyphs">VGA</text>
<polygon points="525.9,1543.4 532.2,1556.6 519.6,1556.6" fill="#f0602a" />
<text x="586.3" y="1453.6" font-size="19" fill="#f0602a" text-anchor="start" font-weight="normal" textLength="61.2" lengthAdjust="spacingAndGlyphs">USB2.0</text>
<polygon points="618.3,1461.5 630.6,1461.5 624.5,1474.6" fill="#f0602a" />
<text x="672.3" y="1464.9" font-size="19" fill="#f0602a" text-anchor="start" font-weight="normal" textLength="126.4" lengthAdjust="spacingAndGlyphs">Gigabit Ethernet</text>
<polygon points="759.0,1471.6 772.4,1471.6 765.7,1485.8" fill="#f0602a" />
<text x="781.4" y="1372.6" font-size="19" fill="#f0602a" text-anchor="start" font-weight="normal" textLength="99.7" lengthAdjust="spacingAndGlyphs">3-in-1Audio</text>
<polygon points="823.0,1378.3 836.0,1378.3 829.5,1391.8" fill="#f0602a" />
<text x="665.0" y="1570.6" font-size="19" fill="#f0602a" text-anchor="start" font-weight="normal" textLength="61.3" lengthAdjust="spacingAndGlyphs">USB3.0</text>
<polygon points="698.7,1535.8 704.9,1548.8 692.5,1548.8" fill="#f0602a" />
</svg>
</body></html>
